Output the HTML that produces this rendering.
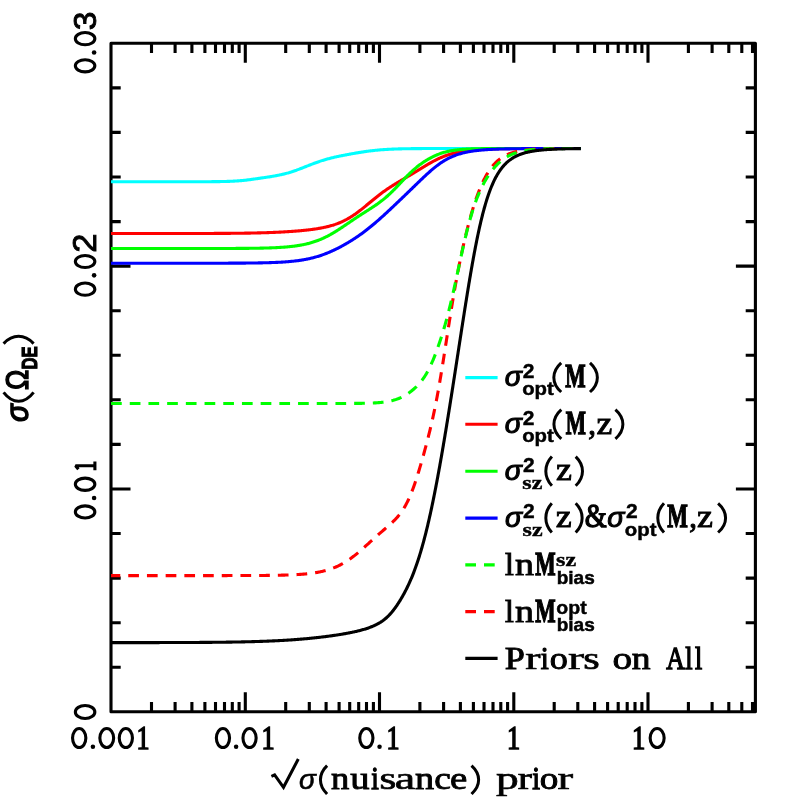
<!DOCTYPE html>
<html><head><meta charset="utf-8"><title>chart</title>
<style>html,body{margin:0;padding:0;background:#fff}svg{display:block}text{font-family:"Liberation Serif",serif;fill:#000}.s{font-family:"Liberation Sans",sans-serif}.m{font-family:"Liberation Mono",monospace}</style></head>
<body>
<svg width="797" height="797" viewBox="0 0 797 797">
<rect width="797" height="797" fill="#fff"/>
<path d="M151.5 711.8 v-9.7 M151.5 43.3 v9.7 M175.1 711.8 v-9.7 M175.1 43.3 v9.7 M191.9 711.8 v-9.7 M191.9 43.3 v9.7 M204.9 711.8 v-9.7 M204.9 43.3 v9.7 M215.5 711.8 v-9.7 M215.5 43.3 v9.7 M224.5 711.8 v-9.7 M224.5 43.3 v9.7 M232.3 711.8 v-9.7 M232.3 43.3 v9.7 M239.1 711.8 v-9.7 M239.1 43.3 v9.7 M245.3 711.8 v-19.5 M245.3 43.3 v19.5 M285.7 711.8 v-9.7 M285.7 43.3 v9.7 M309.3 711.8 v-9.7 M309.3 43.3 v9.7 M326.1 711.8 v-9.7 M326.1 43.3 v9.7 M339.1 711.8 v-9.7 M339.1 43.3 v9.7 M349.7 711.8 v-9.7 M349.7 43.3 v9.7 M358.7 711.8 v-9.7 M358.7 43.3 v9.7 M366.5 711.8 v-9.7 M366.5 43.3 v9.7 M373.4 711.8 v-9.7 M373.4 43.3 v9.7 M379.5 711.8 v-19.5 M379.5 43.3 v19.5 M419.9 711.8 v-9.7 M419.9 43.3 v9.7 M443.6 711.8 v-9.7 M443.6 43.3 v9.7 M460.4 711.8 v-9.7 M460.4 43.3 v9.7 M473.4 711.8 v-9.7 M473.4 43.3 v9.7 M484.0 711.8 v-9.7 M484.0 43.3 v9.7 M493.0 711.8 v-9.7 M493.0 43.3 v9.7 M500.8 711.8 v-9.7 M500.8 43.3 v9.7 M507.6 711.8 v-9.7 M507.6 43.3 v9.7 M513.8 711.8 v-19.5 M513.8 43.3 v19.5 M554.2 711.8 v-9.7 M554.2 43.3 v9.7 M577.8 711.8 v-9.7 M577.8 43.3 v9.7 M594.6 711.8 v-9.7 M594.6 43.3 v9.7 M607.6 711.8 v-9.7 M607.6 43.3 v9.7 M618.2 711.8 v-9.7 M618.2 43.3 v9.7 M627.2 711.8 v-9.7 M627.2 43.3 v9.7 M635.0 711.8 v-9.7 M635.0 43.3 v9.7 M641.9 711.8 v-9.7 M641.9 43.3 v9.7 M648.0 711.8 v-19.5 M648.0 43.3 v19.5 M688.4 711.8 v-9.7 M688.4 43.3 v9.7 M712.1 711.8 v-9.7 M712.1 43.3 v9.7 M728.8 711.8 v-9.7 M728.8 43.3 v9.7 M741.8 711.8 v-9.7 M741.8 43.3 v9.7 M752.5 711.8 v-9.7 M752.5 43.3 v9.7 M111.0 667.2 h9.7 M755.4 667.2 h-9.7 M111.0 622.7 h9.7 M755.4 622.7 h-9.7 M111.0 578.1 h9.7 M755.4 578.1 h-9.7 M111.0 533.5 h9.7 M755.4 533.5 h-9.7 M111.0 489.0 h19.5 M755.4 489.0 h-19.5 M111.0 444.4 h9.7 M755.4 444.4 h-9.7 M111.0 399.8 h9.7 M755.4 399.8 h-9.7 M111.0 355.3 h9.7 M755.4 355.3 h-9.7 M111.0 310.7 h9.7 M755.4 310.7 h-9.7 M111.0 266.1 h19.5 M755.4 266.1 h-19.5 M111.0 221.6 h9.7 M755.4 221.6 h-9.7 M111.0 177.0 h9.7 M755.4 177.0 h-9.7 M111.0 132.4 h9.7 M755.4 132.4 h-9.7 M111.0 87.9 h9.7 M755.4 87.9 h-9.7" stroke="#000" stroke-width="3.1" fill="none"/>
<rect x="111.0" y="43.3" width="644.4" height="668.5" fill="none" stroke="#000" stroke-width="3.1" stroke-linejoin="round"/>
<g fill="none" stroke-width="3.1" stroke-linejoin="round">
<path d="M111.05 181.76 L111.85 181.76 L112.65 181.76 L113.45 181.76 L114.25 181.76 L115.05 181.76 L115.85 181.76 L116.65 181.76 L117.45 181.76 L118.25 181.76 L119.05 181.76 L119.85 181.76 L120.65 181.76 L121.46 181.76 L122.26 181.76 L123.06 181.76 L123.86 181.76 L124.66 181.76 L125.46 181.76 L126.26 181.76 L127.06 181.76 L127.86 181.76 L128.66 181.76 L129.46 181.76 L130.26 181.76 L131.06 181.76 L131.86 181.76 L132.66 181.76 L133.46 181.76 L134.26 181.76 L135.06 181.76 L135.86 181.76 L136.66 181.76 L137.46 181.76 L138.26 181.76 L139.06 181.76 L139.86 181.76 L140.66 181.76 L141.46 181.76 L142.27 181.76 L143.07 181.76 L143.87 181.76 L144.67 181.76 L145.47 181.76 L146.27 181.76 L147.07 181.76 L147.87 181.76 L148.67 181.76 L149.47 181.75 L150.27 181.75 L151.07 181.75 L151.87 181.75 L152.67 181.75 L153.47 181.75 L154.27 181.75 L155.07 181.75 L155.87 181.75 L156.67 181.75 L157.47 181.75 L158.27 181.75 L159.07 181.75 L159.87 181.75 L160.67 181.75 L161.47 181.75 L162.27 181.75 L163.08 181.75 L163.88 181.75 L164.68 181.75 L165.48 181.75 L166.28 181.75 L167.08 181.75 L167.88 181.75 L168.68 181.75 L169.48 181.75 L170.28 181.75 L171.08 181.75 L171.88 181.75 L172.68 181.75 L173.48 181.75 L174.28 181.75 L175.08 181.75 L175.88 181.75 L176.68 181.75 L177.48 181.75 L178.28 181.75 L179.08 181.75 L179.88 181.75 L180.68 181.75 L181.48 181.75 L182.28 181.75 L183.08 181.75 L183.89 181.75 L184.69 181.75 L185.49 181.75 L186.29 181.75 L187.09 181.75 L187.89 181.74 L188.69 181.74 L189.49 181.74 L190.29 181.74 L191.09 181.74 L191.89 181.74 L192.69 181.74 L193.49 181.74 L194.29 181.74 L195.09 181.74 L195.89 181.73 L196.69 181.73 L197.49 181.73 L198.29 181.73 L199.09 181.73 L199.89 181.73 L200.69 181.72 L201.49 181.72 L202.29 181.72 L203.09 181.72 L203.90 181.71 L204.70 181.71 L205.50 181.71 L206.30 181.70 L207.10 181.70 L207.90 181.70 L208.70 181.69 L209.50 181.69 L210.30 181.68 L211.10 181.68 L211.90 181.67 L212.70 181.67 L213.50 181.66 L214.30 181.65 L215.10 181.64 L215.90 181.64 L216.70 181.63 L217.50 181.62 L218.30 181.61 L219.10 181.60 L219.90 181.58 L220.70 181.57 L221.50 181.56 L222.30 181.54 L223.10 181.52 L223.90 181.51 L224.70 181.49 L225.50 181.47 L226.30 181.45 L227.10 181.42 L227.90 181.40 L228.70 181.37 L229.50 181.34 L230.30 181.31 L231.10 181.28 L231.90 181.24 L232.70 181.20 L233.50 181.16 L234.30 181.12 L235.10 181.07 L235.90 181.02 L236.70 180.97 L237.50 180.92 L238.29 180.86 L239.09 180.79 L239.89 180.73 L240.69 180.66 L241.48 180.59 L242.28 180.51 L243.08 180.43 L243.87 180.35 L244.67 180.27 L245.47 180.18 L246.26 180.09 L247.05 179.99 L247.85 179.89 L248.64 179.79 L249.44 179.69 L250.23 179.59 L251.02 179.48 L251.82 179.37 L252.61 179.27 L253.40 179.16 L254.20 179.04 L254.99 178.93 L255.78 178.82 L256.57 178.70 L257.37 178.59 L258.16 178.48 L258.95 178.36 L259.74 178.25 L260.53 178.13 L261.33 178.02 L262.12 177.90 L262.91 177.79 L263.70 177.67 L264.49 177.56 L265.29 177.44 L266.08 177.33 L266.87 177.21 L267.66 177.09 L268.45 176.97 L269.24 176.85 L270.03 176.72 L270.82 176.60 L271.61 176.47 L272.40 176.34 L273.19 176.20 L273.98 176.07 L274.77 175.93 L275.56 175.79 L276.34 175.64 L277.13 175.49 L277.92 175.34 L278.70 175.18 L279.48 175.01 L280.27 174.85 L281.05 174.68 L281.83 174.50 L282.61 174.32 L283.39 174.13 L284.17 173.94 L284.94 173.74 L285.72 173.54 L286.49 173.34 L287.26 173.12 L288.03 172.91 L288.80 172.68 L289.57 172.46 L290.33 172.22 L291.10 171.99 L291.86 171.74 L292.62 171.50 L293.38 171.24 L294.14 170.99 L294.90 170.73 L295.65 170.46 L296.41 170.20 L297.16 169.92 L297.91 169.65 L298.66 169.37 L299.41 169.09 L300.16 168.81 L300.91 168.52 L301.65 168.23 L302.40 167.94 L303.14 167.65 L303.89 167.35 L304.63 167.06 L305.38 166.77 L306.12 166.47 L306.86 166.18 L307.61 165.88 L308.35 165.59 L309.10 165.29 L309.84 165.00 L310.59 164.71 L311.33 164.42 L312.08 164.13 L312.83 163.84 L313.58 163.56 L314.33 163.28 L315.08 163.00 L315.83 162.73 L316.58 162.45 L317.33 162.18 L318.09 161.92 L318.85 161.66 L319.60 161.40 L320.36 161.15 L321.12 160.90 L321.89 160.65 L322.65 160.41 L323.41 160.17 L324.18 159.94 L324.95 159.71 L325.71 159.49 L326.48 159.27 L327.25 159.05 L328.03 158.84 L328.80 158.63 L329.57 158.43 L330.35 158.23 L331.12 158.03 L331.90 157.84 L332.68 157.65 L333.46 157.47 L334.24 157.28 L335.02 157.10 L335.80 156.93 L336.58 156.76 L337.36 156.59 L338.14 156.42 L338.93 156.25 L339.71 156.09 L340.50 155.93 L341.28 155.77 L342.06 155.61 L342.85 155.46 L343.64 155.31 L344.42 155.15 L345.21 155.00 L345.99 154.86 L346.78 154.71 L347.57 154.56 L348.35 154.42 L349.14 154.27 L349.93 154.13 L350.72 153.98 L351.50 153.84 L352.29 153.70 L353.08 153.56 L353.87 153.43 L354.66 153.29 L355.45 153.15 L356.23 153.02 L357.02 152.88 L357.81 152.75 L358.60 152.62 L359.39 152.49 L360.18 152.36 L360.97 152.24 L361.76 152.11 L362.55 151.99 L363.35 151.87 L364.14 151.75 L364.93 151.63 L365.72 151.52 L366.51 151.40 L367.31 151.29 L368.10 151.19 L368.89 151.08 L369.69 150.98 L370.48 150.88 L371.28 150.78 L372.07 150.68 L372.87 150.59 L373.66 150.50 L374.46 150.42 L375.25 150.33 L376.05 150.25 L376.84 150.17 L377.64 150.10 L378.44 150.02 L379.24 149.95 L380.03 149.88 L380.83 149.82 L381.63 149.76 L382.43 149.69 L383.23 149.64 L384.02 149.58 L384.82 149.53 L385.62 149.48 L386.42 149.43 L387.22 149.38 L388.02 149.34 L388.82 149.29 L389.62 149.25 L390.42 149.21 L391.22 149.18 L392.02 149.14 L392.82 149.11 L393.61 149.08 L394.41 149.05 L395.21 149.02 L396.01 148.99 L396.81 148.96 L397.61 148.94 L398.41 148.91 L399.21 148.89 L400.01 148.87 L400.81 148.85 L401.61 148.83 L402.42 148.81 L403.22 148.80 L404.02 148.78 L404.82 148.76 L405.62 148.75 L406.42 148.74 L407.22 148.72 L408.02 148.71 L408.82 148.70 L409.62 148.69 L410.42 148.68 L411.22 148.67 L412.02 148.66 L412.82 148.65 L413.62 148.64 L414.42 148.63 L415.22 148.62 L416.02 148.62 L416.82 148.61 L417.62 148.60 L418.42 148.60 L419.22 148.59 L420.02 148.59 L420.82 148.58 L421.62 148.58 L422.42 148.57 L423.22 148.57 L424.02 148.56 L424.82 148.56 L425.62 148.56 L426.43 148.55 L427.23 148.55 L428.03 148.55 L428.83 148.54 L429.63 148.54 L430.43 148.54 L431.23 148.54 L432.03 148.53 L432.83 148.53 L433.63 148.53 L434.43 148.53 L435.23 148.52 L436.03 148.52 L436.83 148.52 L437.63 148.52 L438.43 148.52 L439.23 148.52 L440.03 148.52 L440.83 148.51 L441.63 148.51 L442.43 148.51 L443.23 148.51 L444.03 148.51 L444.83 148.51 L445.63 148.51 L446.43 148.51 L447.24 148.51 L448.04 148.51 L448.84 148.51 L449.64 148.50 L450.44 148.50 L451.24 148.50 L452.04 148.50 L452.84 148.50 L453.64 148.50 L454.44 148.50 L455.24 148.50 L456.04 148.50 L456.84 148.50 L457.64 148.50 L458.44 148.50 L459.24 148.50 L460.04 148.50 L460.84 148.50 L461.64 148.50 L462.44 148.50 L463.24 148.50 L464.04 148.50 L464.84 148.50 L465.64 148.50 L466.44 148.50 L467.24 148.50 L468.05 148.50 L468.85 148.50 L469.65 148.50 L470.45 148.50 L471.25 148.50 L472.05 148.50 L472.85 148.50 L473.65 148.50 L474.45 148.50 L475.25 148.50 L476.05 148.50 L476.85 148.50 L477.65 148.50 L478.45 148.50 L479.25 148.50 L480.05 148.50 L480.85 148.50 L481.65 148.49 L482.45 148.49 L483.25 148.49 L484.05 148.49 L484.85 148.49 L485.65 148.49 L486.45 148.49 L487.25 148.49 L488.05 148.49 L488.86 148.49 L489.66 148.49 L490.46 148.49 L491.26 148.49 L492.06 148.49 L492.86 148.49 L493.66 148.49 L494.46 148.49 L495.26 148.49 L496.06 148.49 L496.86 148.49 L497.66 148.49 L498.46 148.49 L499.26 148.49 L500.06 148.49 L500.86 148.49 L501.66 148.49 L502.46 148.49 L503.26 148.49 L504.06 148.49 L504.86 148.49 L505.66 148.49 L506.46 148.49 L507.26 148.49 L508.06 148.49 L508.87 148.49 L509.67 148.49 L510.47 148.49 L511.27 148.49 L512.07 148.49 L512.87 148.49 L513.67 148.49 L514.47 148.49 L515.27 148.49 L516.07 148.49 L516.87 148.49 L517.67 148.49 L518.47 148.49 L519.27 148.49 L520.07 148.49 L520.87 148.49 L521.67 148.49 L522.47 148.49 L523.27 148.49 L524.07 148.49 L524.87 148.49 L525.67 148.49 L526.47 148.49 L527.27 148.49 L528.07 148.49 L528.87 148.49 L529.68 148.49 L530.48 148.49 L531.28 148.49 L532.08 148.49 L532.88 148.49 L533.68 148.49 L534.48 148.49 L535.28 148.49 L536.08 148.49 L536.88 148.49 L537.68 148.49 L538.48 148.49 L539.28 148.49 L540.08 148.49 L540.88 148.49 L541.68 148.49 L542.48 148.49 L543.28 148.49 L544.08 148.49 L544.88 148.49 L545.68 148.49 L546.48 148.49 L547.28 148.49 L548.08 148.49 L548.88 148.49 L549.68 148.49 L550.49 148.49 L551.29 148.49 L552.09 148.49 L552.89 148.49 L553.69 148.49 L554.49 148.49 L555.29 148.49 L556.09 148.49 L556.89 148.49 L557.69 148.49 L558.49 148.49 L559.29 148.49 L560.09 148.49 L560.89 148.49 L561.69 148.49 L562.49 148.49 L563.29 148.49 L564.09 148.49 L564.89 148.49 L565.69 148.49 L566.49 148.49 L567.29 148.49 L568.09 148.49 L568.89 148.49 L569.69 148.49 L570.49 148.49 L571.30 148.49 L572.10 148.49 L572.90 148.49 L573.70 148.49 L574.50 148.49 L575.30 148.49 L576.10 148.49 L576.90 148.49 L577.70 148.49 L578.50 148.49 L579.30 148.49 L580.10 148.49 L580.90 148.49" stroke="#00ffff"/>
<path d="M111.05 233.52 L111.85 233.52 L112.65 233.52 L113.45 233.52 L114.25 233.52 L115.05 233.52 L115.85 233.52 L116.65 233.52 L117.45 233.52 L118.25 233.52 L119.05 233.52 L119.85 233.52 L120.65 233.52 L121.46 233.52 L122.26 233.52 L123.06 233.52 L123.86 233.52 L124.66 233.52 L125.46 233.52 L126.26 233.52 L127.06 233.52 L127.86 233.52 L128.66 233.52 L129.46 233.52 L130.26 233.52 L131.06 233.52 L131.86 233.52 L132.66 233.52 L133.46 233.52 L134.26 233.52 L135.06 233.52 L135.86 233.52 L136.66 233.52 L137.46 233.52 L138.26 233.52 L139.06 233.52 L139.86 233.51 L140.66 233.51 L141.46 233.51 L142.27 233.51 L143.07 233.51 L143.87 233.51 L144.67 233.51 L145.47 233.51 L146.27 233.51 L147.07 233.51 L147.87 233.51 L148.67 233.51 L149.47 233.51 L150.27 233.51 L151.07 233.51 L151.87 233.51 L152.67 233.51 L153.47 233.51 L154.27 233.51 L155.07 233.51 L155.87 233.51 L156.67 233.51 L157.47 233.51 L158.27 233.51 L159.07 233.51 L159.87 233.51 L160.67 233.51 L161.47 233.51 L162.28 233.51 L163.08 233.51 L163.88 233.51 L164.68 233.51 L165.48 233.51 L166.28 233.51 L167.08 233.51 L167.88 233.51 L168.68 233.51 L169.48 233.51 L170.28 233.50 L171.08 233.50 L171.88 233.50 L172.68 233.50 L173.48 233.50 L174.28 233.50 L175.08 233.50 L175.88 233.50 L176.68 233.50 L177.48 233.50 L178.28 233.50 L179.08 233.50 L179.88 233.50 L180.68 233.50 L181.48 233.50 L182.28 233.50 L183.09 233.49 L183.89 233.49 L184.69 233.49 L185.49 233.49 L186.29 233.49 L187.09 233.49 L187.89 233.49 L188.69 233.49 L189.49 233.49 L190.29 233.49 L191.09 233.48 L191.89 233.48 L192.69 233.48 L193.49 233.48 L194.29 233.48 L195.09 233.48 L195.89 233.48 L196.69 233.47 L197.49 233.47 L198.29 233.47 L199.09 233.47 L199.89 233.47 L200.69 233.47 L201.49 233.46 L202.29 233.46 L203.09 233.46 L203.90 233.46 L204.70 233.46 L205.50 233.45 L206.30 233.45 L207.10 233.45 L207.90 233.45 L208.70 233.44 L209.50 233.44 L210.30 233.44 L211.10 233.44 L211.90 233.43 L212.70 233.43 L213.50 233.43 L214.30 233.42 L215.10 233.42 L215.90 233.42 L216.70 233.41 L217.50 233.41 L218.30 233.41 L219.10 233.40 L219.90 233.40 L220.70 233.39 L221.50 233.39 L222.30 233.38 L223.10 233.38 L223.90 233.37 L224.71 233.37 L225.51 233.36 L226.31 233.36 L227.11 233.35 L227.91 233.35 L228.71 233.34 L229.51 233.33 L230.31 233.33 L231.11 233.32 L231.91 233.31 L232.71 233.31 L233.51 233.30 L234.31 233.29 L235.11 233.28 L235.91 233.28 L236.71 233.27 L237.51 233.26 L238.31 233.25 L239.11 233.24 L239.91 233.23 L240.71 233.22 L241.51 233.21 L242.31 233.20 L243.11 233.19 L243.91 233.18 L244.71 233.17 L245.51 233.16 L246.31 233.14 L247.11 233.13 L247.92 233.12 L248.72 233.10 L249.52 233.09 L250.32 233.08 L251.12 233.06 L251.92 233.05 L252.72 233.03 L253.52 233.01 L254.32 233.00 L255.12 232.98 L255.92 232.96 L256.72 232.94 L257.52 232.92 L258.32 232.91 L259.12 232.89 L259.92 232.86 L260.72 232.84 L261.52 232.82 L262.32 232.80 L263.12 232.78 L263.92 232.75 L264.72 232.73 L265.52 232.70 L266.32 232.68 L267.12 232.65 L267.92 232.62 L268.72 232.60 L269.52 232.57 L270.32 232.54 L271.12 232.51 L271.92 232.48 L272.72 232.44 L273.52 232.41 L274.32 232.38 L275.12 232.34 L275.92 232.31 L276.72 232.27 L277.52 232.23 L278.31 232.20 L279.11 232.16 L279.91 232.12 L280.71 232.08 L281.51 232.03 L282.31 231.99 L283.11 231.95 L283.91 231.90 L284.71 231.86 L285.51 231.81 L286.31 231.76 L287.11 231.71 L287.90 231.66 L288.70 231.61 L289.50 231.56 L290.30 231.50 L291.10 231.45 L291.90 231.39 L292.70 231.34 L293.49 231.28 L294.29 231.22 L295.09 231.16 L295.89 231.09 L296.69 231.03 L297.48 230.96 L298.28 230.89 L299.08 230.83 L299.88 230.76 L300.67 230.68 L301.47 230.61 L302.27 230.53 L303.06 230.46 L303.86 230.38 L304.66 230.30 L305.45 230.21 L306.25 230.13 L307.04 230.04 L307.84 229.95 L308.63 229.86 L309.43 229.76 L310.22 229.67 L311.02 229.57 L311.81 229.47 L312.60 229.36 L313.40 229.25 L314.19 229.14 L314.98 229.03 L315.77 228.91 L316.57 228.79 L317.36 228.66 L318.15 228.53 L318.94 228.40 L319.72 228.26 L320.51 228.12 L321.30 227.98 L322.09 227.83 L322.87 227.67 L323.65 227.51 L324.44 227.35 L325.22 227.18 L326.00 227.00 L326.78 226.82 L327.56 226.63 L328.33 226.44 L329.11 226.24 L329.88 226.03 L330.65 225.82 L331.42 225.60 L332.19 225.37 L332.96 225.14 L333.72 224.90 L334.48 224.65 L335.24 224.40 L336.00 224.13 L336.75 223.86 L337.50 223.58 L338.25 223.30 L338.99 223.00 L339.73 222.70 L340.47 222.39 L341.20 222.07 L341.93 221.74 L342.66 221.41 L343.38 221.06 L344.10 220.71 L344.82 220.36 L345.53 219.99 L346.24 219.62 L346.94 219.23 L347.64 218.85 L348.34 218.45 L349.03 218.05 L349.72 217.64 L350.40 217.22 L351.08 216.80 L351.76 216.37 L352.43 215.94 L353.10 215.50 L353.76 215.05 L354.43 214.60 L355.08 214.15 L355.74 213.69 L356.39 213.22 L357.04 212.75 L357.68 212.28 L358.32 211.80 L358.96 211.32 L359.60 210.83 L360.23 210.34 L360.86 209.85 L361.49 209.36 L362.12 208.86 L362.75 208.36 L363.37 207.86 L363.99 207.35 L364.61 206.85 L365.23 206.34 L365.85 205.83 L366.47 205.33 L367.09 204.82 L367.70 204.31 L368.32 203.79 L368.94 203.28 L369.55 202.77 L370.17 202.26 L370.78 201.75 L371.40 201.24 L372.02 200.73 L372.64 200.22 L373.25 199.71 L373.87 199.21 L374.49 198.70 L375.12 198.20 L375.74 197.70 L376.36 197.20 L376.99 196.70 L377.62 196.20 L378.25 195.71 L378.88 195.22 L379.51 194.73 L380.15 194.24 L380.79 193.76 L381.43 193.28 L382.07 192.80 L382.71 192.32 L383.36 191.85 L384.01 191.38 L384.66 190.92 L385.31 190.46 L385.97 190.00 L386.63 189.54 L387.29 189.09 L387.95 188.64 L388.61 188.19 L389.28 187.75 L389.95 187.31 L390.62 186.87 L391.29 186.44 L391.97 186.01 L392.64 185.58 L393.32 185.15 L394.00 184.73 L394.68 184.31 L395.36 183.89 L396.04 183.47 L396.73 183.06 L397.41 182.64 L398.10 182.23 L398.79 181.82 L399.47 181.41 L400.16 181.00 L400.85 180.59 L401.54 180.19 L402.23 179.78 L402.92 179.37 L403.61 178.97 L404.30 178.56 L404.99 178.15 L405.68 177.75 L406.37 177.34 L407.06 176.93 L407.75 176.53 L408.43 176.12 L409.12 175.71 L409.81 175.30 L410.50 174.89 L411.18 174.48 L411.87 174.06 L412.55 173.65 L413.24 173.24 L413.92 172.82 L414.61 172.41 L415.29 171.99 L415.97 171.57 L416.66 171.16 L417.34 170.74 L418.02 170.32 L418.70 169.90 L419.39 169.48 L420.07 169.06 L420.75 168.65 L421.43 168.23 L422.12 167.81 L422.80 167.40 L423.49 166.98 L424.17 166.57 L424.86 166.15 L425.54 165.74 L426.23 165.33 L426.92 164.92 L427.61 164.52 L428.30 164.11 L428.99 163.71 L429.69 163.31 L430.38 162.92 L431.08 162.53 L431.78 162.14 L432.48 161.75 L433.19 161.37 L433.89 161.00 L434.60 160.63 L435.31 160.26 L436.03 159.90 L436.74 159.54 L437.46 159.19 L438.18 158.84 L438.91 158.50 L439.63 158.16 L440.36 157.84 L441.10 157.51 L441.83 157.20 L442.57 156.89 L443.31 156.58 L444.05 156.29 L444.80 156.00 L445.55 155.72 L446.30 155.44 L447.06 155.17 L447.81 154.91 L448.57 154.66 L449.33 154.41 L450.10 154.17 L450.86 153.94 L451.63 153.72 L452.40 153.50 L453.17 153.29 L453.95 153.09 L454.72 152.89 L455.50 152.70 L456.28 152.52 L457.06 152.34 L457.84 152.17 L458.63 152.01 L459.41 151.85 L460.20 151.70 L460.98 151.55 L461.77 151.41 L462.56 151.28 L463.35 151.15 L464.14 151.03 L464.93 150.91 L465.73 150.80 L466.52 150.69 L467.31 150.59 L468.11 150.49 L468.90 150.39 L469.70 150.30 L470.49 150.21 L471.29 150.13 L472.09 150.05 L472.88 149.98 L473.68 149.91 L474.48 149.84 L475.27 149.77 L476.07 149.71 L476.87 149.65 L477.67 149.59 L478.47 149.54 L479.27 149.49 L480.07 149.44 L480.86 149.39 L481.66 149.34 L482.46 149.30 L483.26 149.26 L484.06 149.22 L484.86 149.19 L485.66 149.15 L486.46 149.12 L487.26 149.09 L488.06 149.05 L488.86 149.03 L489.66 149.00 L490.46 148.97 L491.26 148.95 L492.06 148.92 L492.86 148.90 L493.66 148.88 L494.46 148.86 L495.26 148.84 L496.06 148.82 L496.86 148.81 L497.66 148.79 L498.46 148.77 L499.26 148.76 L500.06 148.74 L500.86 148.73 L501.66 148.72 L502.46 148.70 L503.26 148.69 L504.06 148.68 L504.86 148.67 L505.66 148.66 L506.46 148.65 L507.26 148.64 L508.06 148.63 L508.87 148.63 L509.67 148.62 L510.47 148.61 L511.27 148.60 L512.07 148.60 L512.87 148.59 L513.67 148.58 L514.47 148.58 L515.27 148.57 L516.07 148.57 L516.87 148.56 L517.67 148.56 L518.47 148.55 L519.27 148.55 L520.07 148.55 L520.87 148.54 L521.67 148.54 L522.47 148.54 L523.27 148.53 L524.07 148.53 L524.87 148.53 L525.67 148.52 L526.47 148.52 L527.27 148.52 L528.07 148.52 L528.87 148.51 L529.68 148.51 L530.48 148.51 L531.28 148.51 L532.08 148.51 L532.88 148.50 L533.68 148.50 L534.48 148.50 L535.28 148.50 L536.08 148.50 L536.88 148.50 L537.68 148.49 L538.48 148.49 L539.28 148.49 L540.08 148.49 L540.88 148.49 L541.68 148.49 L542.48 148.49 L543.28 148.49 L544.08 148.49 L544.88 148.49 L545.68 148.48 L546.48 148.48 L547.28 148.48 L548.08 148.48 L548.88 148.48 L549.68 148.48 L550.49 148.48 L551.29 148.48 L552.09 148.48 L552.89 148.48 L553.69 148.48 L554.49 148.48 L555.29 148.48 L556.09 148.48 L556.89 148.48 L557.69 148.48 L558.49 148.48 L559.29 148.48 L560.09 148.48 L560.89 148.48 L561.69 148.48 L562.49 148.48 L563.29 148.47 L564.09 148.47 L564.89 148.47 L565.69 148.47 L566.49 148.47 L567.29 148.47 L568.09 148.47 L568.89 148.47 L569.69 148.47 L570.49 148.47 L571.30 148.47 L572.10 148.47 L572.90 148.47 L573.70 148.47 L574.50 148.47 L575.30 148.47 L576.10 148.47 L576.90 148.47 L577.70 148.47 L578.50 148.47 L579.30 148.47 L580.10 148.47 L580.90 148.47" stroke="#ff0000"/>
<path d="M111.05 248.51 L111.85 248.51 L112.65 248.51 L113.45 248.51 L114.25 248.51 L115.06 248.51 L115.86 248.51 L116.66 248.51 L117.46 248.51 L118.26 248.51 L119.06 248.51 L119.86 248.51 L120.66 248.51 L121.47 248.51 L122.27 248.51 L123.07 248.51 L123.87 248.51 L124.67 248.51 L125.47 248.51 L126.27 248.51 L127.07 248.51 L127.87 248.51 L128.68 248.51 L129.48 248.51 L130.28 248.51 L131.08 248.51 L131.88 248.51 L132.68 248.51 L133.48 248.51 L134.28 248.51 L135.09 248.51 L135.89 248.51 L136.69 248.51 L137.49 248.51 L138.29 248.51 L139.09 248.51 L139.89 248.51 L140.69 248.51 L141.50 248.51 L142.30 248.51 L143.10 248.51 L143.90 248.51 L144.70 248.51 L145.50 248.51 L146.30 248.51 L147.10 248.51 L147.90 248.51 L148.71 248.51 L149.51 248.51 L150.31 248.51 L151.11 248.51 L151.91 248.51 L152.71 248.51 L153.51 248.51 L154.31 248.51 L155.12 248.51 L155.92 248.51 L156.72 248.51 L157.52 248.51 L158.32 248.51 L159.12 248.51 L159.92 248.51 L160.72 248.51 L161.52 248.51 L162.33 248.51 L163.13 248.51 L163.93 248.51 L164.73 248.51 L165.53 248.51 L166.33 248.51 L167.13 248.51 L167.93 248.51 L168.74 248.51 L169.54 248.51 L170.34 248.51 L171.14 248.51 L171.94 248.51 L172.74 248.51 L173.54 248.51 L174.34 248.51 L175.15 248.51 L175.95 248.51 L176.75 248.51 L177.55 248.51 L178.35 248.51 L179.15 248.51 L179.95 248.51 L180.75 248.51 L181.55 248.51 L182.36 248.51 L183.16 248.51 L183.96 248.51 L184.76 248.51 L185.56 248.51 L186.36 248.51 L187.16 248.51 L187.96 248.51 L188.77 248.51 L189.57 248.50 L190.37 248.50 L191.17 248.50 L191.97 248.50 L192.77 248.50 L193.57 248.50 L194.37 248.50 L195.17 248.50 L195.98 248.50 L196.78 248.50 L197.58 248.50 L198.38 248.50 L199.18 248.50 L199.98 248.50 L200.78 248.50 L201.58 248.50 L202.39 248.50 L203.19 248.50 L203.99 248.50 L204.79 248.50 L205.59 248.50 L206.39 248.49 L207.19 248.49 L207.99 248.49 L208.80 248.49 L209.60 248.49 L210.40 248.49 L211.20 248.49 L212.00 248.49 L212.80 248.49 L213.60 248.49 L214.40 248.49 L215.20 248.48 L216.01 248.48 L216.81 248.48 L217.61 248.48 L218.41 248.48 L219.21 248.48 L220.01 248.48 L220.81 248.47 L221.61 248.47 L222.42 248.47 L223.22 248.47 L224.02 248.47 L224.82 248.46 L225.62 248.46 L226.42 248.46 L227.22 248.46 L228.02 248.45 L228.82 248.45 L229.63 248.45 L230.43 248.45 L231.23 248.44 L232.03 248.44 L232.83 248.44 L233.63 248.43 L234.43 248.43 L235.23 248.43 L236.04 248.42 L236.84 248.42 L237.64 248.41 L238.44 248.41 L239.24 248.40 L240.04 248.40 L240.84 248.39 L241.64 248.39 L242.44 248.38 L243.25 248.38 L244.05 248.37 L244.85 248.36 L245.65 248.36 L246.45 248.35 L247.25 248.34 L248.05 248.33 L248.85 248.33 L249.66 248.32 L250.46 248.31 L251.26 248.30 L252.06 248.29 L252.86 248.28 L253.66 248.27 L254.46 248.26 L255.26 248.24 L256.06 248.23 L256.87 248.22 L257.67 248.20 L258.47 248.19 L259.27 248.18 L260.07 248.16 L260.87 248.14 L261.67 248.13 L262.47 248.11 L263.27 248.09 L264.07 248.07 L264.88 248.05 L265.68 248.03 L266.48 248.01 L267.28 247.98 L268.08 247.96 L268.88 247.93 L269.68 247.91 L270.48 247.88 L271.28 247.85 L272.08 247.82 L272.88 247.78 L273.68 247.75 L274.48 247.72 L275.28 247.68 L276.08 247.64 L276.88 247.60 L277.68 247.56 L278.48 247.52 L279.28 247.47 L280.08 247.42 L280.88 247.37 L281.68 247.32 L282.48 247.27 L283.28 247.21 L284.08 247.15 L284.88 247.09 L285.68 247.02 L286.48 246.96 L287.27 246.89 L288.07 246.81 L288.87 246.74 L289.67 246.66 L290.46 246.57 L291.26 246.49 L292.06 246.40 L292.85 246.30 L293.65 246.20 L294.44 246.10 L295.24 246.00 L296.03 245.89 L296.82 245.77 L297.62 245.65 L298.41 245.53 L299.20 245.40 L299.99 245.26 L300.78 245.12 L301.56 244.98 L302.35 244.83 L303.14 244.67 L303.92 244.51 L304.71 244.35 L305.49 244.17 L306.27 243.99 L307.05 243.81 L307.83 243.62 L308.60 243.42 L309.38 243.21 L310.15 243.00 L310.92 242.78 L311.69 242.56 L312.46 242.33 L313.22 242.09 L313.98 241.84 L314.74 241.59 L315.50 241.33 L316.26 241.06 L317.01 240.79 L317.76 240.51 L318.51 240.22 L319.25 239.93 L320.00 239.63 L320.74 239.32 L321.47 239.01 L322.21 238.68 L322.94 238.36 L323.67 238.02 L324.39 237.68 L325.11 237.33 L325.83 236.98 L326.55 236.62 L327.26 236.26 L327.97 235.89 L328.68 235.51 L329.39 235.13 L330.09 234.75 L330.79 234.36 L331.49 233.96 L332.18 233.56 L332.87 233.16 L333.56 232.75 L334.25 232.33 L334.93 231.92 L335.61 231.50 L336.29 231.08 L336.97 230.65 L337.65 230.22 L338.33 229.79 L339.00 229.36 L339.67 228.92 L340.34 228.48 L341.01 228.04 L341.68 227.60 L342.34 227.15 L343.01 226.71 L343.68 226.26 L344.34 225.81 L345.00 225.36 L345.67 224.91 L346.33 224.46 L346.99 224.01 L347.66 223.56 L348.32 223.11 L348.98 222.66 L349.64 222.21 L350.31 221.76 L350.97 221.31 L351.63 220.86 L352.30 220.42 L352.96 219.97 L353.63 219.52 L354.29 219.08 L354.96 218.63 L355.62 218.19 L356.29 217.74 L356.96 217.30 L357.63 216.86 L358.30 216.42 L358.97 215.98 L359.64 215.55 L360.31 215.11 L360.99 214.68 L361.66 214.24 L362.33 213.81 L363.01 213.38 L363.68 212.94 L364.36 212.51 L365.03 212.08 L365.71 211.65 L366.39 211.22 L367.06 210.79 L367.74 210.36 L368.41 209.93 L369.09 209.50 L369.76 209.07 L370.44 208.63 L371.11 208.20 L371.78 207.76 L372.45 207.32 L373.12 206.88 L373.79 206.43 L374.45 205.99 L375.11 205.54 L375.78 205.09 L376.44 204.63 L377.09 204.17 L377.75 203.71 L378.40 203.24 L379.05 202.77 L379.69 202.30 L380.33 201.82 L380.97 201.34 L381.61 200.85 L382.24 200.36 L382.87 199.86 L383.49 199.36 L384.11 198.85 L384.73 198.34 L385.34 197.82 L385.95 197.31 L386.56 196.78 L387.16 196.25 L387.76 195.72 L388.36 195.18 L388.95 194.64 L389.53 194.10 L390.12 193.55 L390.70 193.00 L391.28 192.44 L391.85 191.88 L392.42 191.32 L392.99 190.76 L393.56 190.19 L394.12 189.62 L394.68 189.05 L395.24 188.48 L395.80 187.90 L396.35 187.32 L396.91 186.74 L397.46 186.16 L398.01 185.58 L398.56 185.00 L399.11 184.42 L399.66 183.83 L400.21 183.25 L400.76 182.67 L401.31 182.08 L401.86 181.50 L402.41 180.91 L402.96 180.33 L403.51 179.75 L404.06 179.17 L404.61 178.59 L405.17 178.01 L405.72 177.44 L406.28 176.86 L406.84 176.29 L407.41 175.72 L407.97 175.15 L408.54 174.59 L409.11 174.03 L409.69 173.47 L410.26 172.91 L410.84 172.36 L411.43 171.81 L412.02 171.27 L412.61 170.73 L413.20 170.19 L413.80 169.66 L414.40 169.13 L415.01 168.61 L415.62 168.09 L416.24 167.58 L416.86 167.07 L417.48 166.57 L418.11 166.07 L418.74 165.58 L419.38 165.09 L420.02 164.61 L420.67 164.14 L421.32 163.67 L421.97 163.21 L422.63 162.75 L423.29 162.30 L423.96 161.86 L424.63 161.42 L425.31 160.99 L425.98 160.56 L426.67 160.14 L427.35 159.73 L428.04 159.32 L428.74 158.92 L429.44 158.53 L430.14 158.15 L430.85 157.77 L431.56 157.40 L432.27 157.03 L432.99 156.68 L433.71 156.33 L434.44 155.99 L435.16 155.66 L435.90 155.33 L436.63 155.02 L437.37 154.71 L438.12 154.41 L438.86 154.13 L439.62 153.85 L440.37 153.57 L441.13 153.31 L441.89 153.06 L442.65 152.82 L443.42 152.58 L444.19 152.36 L444.96 152.15 L445.73 151.94 L446.51 151.74 L447.29 151.56 L448.07 151.38 L448.85 151.21 L449.64 151.05 L450.42 150.89 L451.21 150.75 L452.00 150.61 L452.79 150.48 L453.58 150.36 L454.38 150.24 L455.17 150.13 L455.96 150.03 L456.76 149.93 L457.55 149.84 L458.35 149.75 L459.15 149.67 L459.95 149.59 L460.74 149.52 L461.54 149.46 L462.34 149.39 L463.14 149.33 L463.94 149.28 L464.74 149.23 L465.54 149.18 L466.34 149.13 L467.14 149.09 L467.94 149.05 L468.74 149.02 L469.54 148.98 L470.34 148.95 L471.14 148.92 L471.94 148.89 L472.74 148.86 L473.54 148.84 L474.34 148.82 L475.14 148.80 L475.95 148.78 L476.75 148.76 L477.55 148.74 L478.35 148.72 L479.15 148.71 L479.95 148.69 L480.75 148.68 L481.55 148.67 L482.35 148.66 L483.16 148.65 L483.96 148.64 L484.76 148.63 L485.56 148.62 L486.36 148.61 L487.16 148.60 L487.96 148.60 L488.76 148.59 L489.56 148.58 L490.37 148.58 L491.17 148.57 L491.97 148.57 L492.77 148.56 L493.57 148.56 L494.37 148.55 L495.17 148.55 L495.97 148.55 L496.78 148.54 L497.58 148.54 L498.38 148.54 L499.18 148.53 L499.98 148.53 L500.78 148.53 L501.58 148.53 L502.38 148.53 L503.18 148.52 L503.99 148.52 L504.79 148.52 L505.59 148.52 L506.39 148.52 L507.19 148.52 L507.99 148.51 L508.79 148.51 L509.59 148.51 L510.40 148.51 L511.20 148.51 L512.00 148.51 L512.80 148.51 L513.60 148.51 L514.40 148.51 L515.20 148.51 L516.00 148.51 L516.80 148.50 L517.61 148.50 L518.41 148.50 L519.21 148.50 L520.01 148.50 L520.81 148.50 L521.61 148.50 L522.41 148.50 L523.21 148.50 L524.02 148.50 L524.82 148.50 L525.62 148.50 L526.42 148.50 L527.22 148.50 L528.02 148.50 L528.82 148.50 L529.62 148.50 L530.43 148.50 L531.23 148.50 L532.03 148.50 L532.83 148.50 L533.63 148.50 L534.43 148.50 L535.23 148.50 L536.03 148.50 L536.83 148.50 L537.64 148.50 L538.44 148.50 L539.24 148.50 L540.04 148.50 L540.84 148.50 L541.64 148.50 L542.44 148.50 L543.24 148.50 L544.05 148.50 L544.85 148.50 L545.65 148.50 L546.45 148.50 L547.25 148.50 L548.05 148.50 L548.85 148.50 L549.65 148.50 L550.45 148.50 L551.26 148.50 L552.06 148.50 L552.86 148.50 L553.66 148.50 L554.46 148.50 L555.26 148.50 L556.06 148.50 L556.86 148.50 L557.67 148.50 L558.47 148.50 L559.27 148.50 L560.07 148.50 L560.87 148.50 L561.67 148.50 L562.47 148.50 L563.27 148.50 L564.08 148.50 L564.88 148.50 L565.68 148.50 L566.48 148.50 L567.28 148.50 L568.08 148.50 L568.88 148.50 L569.68 148.50 L570.48 148.50 L571.29 148.50 L572.09 148.50 L572.89 148.50 L573.69 148.50 L574.49 148.50 L575.29 148.50 L576.09 148.50 L576.89 148.50 L577.70 148.50 L578.50 148.50 L579.30 148.50 L580.10 148.50 L580.90 148.50" stroke="#00ff00"/>
<path d="M111.05 263.24 L111.85 263.24 L112.65 263.24 L113.45 263.24 L114.25 263.24 L115.05 263.24 L115.85 263.24 L116.65 263.24 L117.45 263.24 L118.25 263.24 L119.05 263.24 L119.85 263.24 L120.65 263.24 L121.45 263.24 L122.25 263.24 L123.05 263.24 L123.86 263.24 L124.66 263.24 L125.46 263.24 L126.26 263.24 L127.06 263.24 L127.86 263.24 L128.66 263.24 L129.46 263.24 L130.26 263.24 L131.06 263.24 L131.86 263.24 L132.66 263.24 L133.46 263.24 L134.26 263.24 L135.06 263.24 L135.86 263.24 L136.66 263.24 L137.46 263.24 L138.26 263.24 L139.06 263.24 L139.86 263.24 L140.66 263.24 L141.46 263.24 L142.26 263.24 L143.06 263.24 L143.86 263.24 L144.66 263.24 L145.46 263.24 L146.26 263.24 L147.06 263.24 L147.86 263.24 L148.67 263.24 L149.47 263.24 L150.27 263.24 L151.07 263.24 L151.87 263.24 L152.67 263.24 L153.47 263.24 L154.27 263.24 L155.07 263.24 L155.87 263.24 L156.67 263.24 L157.47 263.24 L158.27 263.24 L159.07 263.24 L159.87 263.24 L160.67 263.24 L161.47 263.24 L162.27 263.24 L163.07 263.24 L163.87 263.24 L164.67 263.24 L165.47 263.24 L166.27 263.24 L167.07 263.24 L167.87 263.24 L168.67 263.24 L169.47 263.24 L170.27 263.24 L171.07 263.24 L171.87 263.24 L172.68 263.24 L173.48 263.24 L174.28 263.24 L175.08 263.24 L175.88 263.24 L176.68 263.24 L177.48 263.24 L178.28 263.24 L179.08 263.24 L179.88 263.24 L180.68 263.24 L181.48 263.24 L182.28 263.24 L183.08 263.24 L183.88 263.23 L184.68 263.23 L185.48 263.23 L186.28 263.23 L187.08 263.23 L187.88 263.23 L188.68 263.23 L189.48 263.23 L190.28 263.23 L191.08 263.23 L191.88 263.23 L192.68 263.23 L193.48 263.23 L194.28 263.23 L195.08 263.23 L195.88 263.23 L196.68 263.23 L197.49 263.23 L198.29 263.23 L199.09 263.23 L199.89 263.23 L200.69 263.23 L201.49 263.22 L202.29 263.22 L203.09 263.22 L203.89 263.22 L204.69 263.22 L205.49 263.22 L206.29 263.22 L207.09 263.22 L207.89 263.22 L208.69 263.22 L209.49 263.22 L210.29 263.21 L211.09 263.21 L211.89 263.21 L212.69 263.21 L213.49 263.21 L214.29 263.21 L215.09 263.21 L215.89 263.21 L216.69 263.20 L217.49 263.20 L218.29 263.20 L219.09 263.20 L219.89 263.20 L220.69 263.20 L221.49 263.19 L222.30 263.19 L223.10 263.19 L223.90 263.19 L224.70 263.19 L225.50 263.18 L226.30 263.18 L227.10 263.18 L227.90 263.18 L228.70 263.17 L229.50 263.17 L230.30 263.17 L231.10 263.16 L231.90 263.16 L232.70 263.16 L233.50 263.15 L234.30 263.15 L235.10 263.14 L235.90 263.14 L236.70 263.14 L237.50 263.13 L238.30 263.13 L239.10 263.12 L239.90 263.12 L240.70 263.11 L241.50 263.11 L242.30 263.10 L243.10 263.09 L243.90 263.09 L244.70 263.08 L245.50 263.08 L246.30 263.07 L247.10 263.06 L247.91 263.05 L248.71 263.05 L249.51 263.04 L250.31 263.03 L251.11 263.02 L251.91 263.01 L252.71 263.00 L253.51 262.99 L254.31 262.98 L255.11 262.97 L255.91 262.95 L256.71 262.94 L257.51 262.93 L258.31 262.92 L259.11 262.90 L259.91 262.89 L260.71 262.87 L261.51 262.86 L262.31 262.84 L263.11 262.82 L263.91 262.80 L264.71 262.79 L265.51 262.77 L266.31 262.74 L267.11 262.72 L267.91 262.70 L268.71 262.68 L269.51 262.65 L270.31 262.63 L271.11 262.60 L271.91 262.57 L272.71 262.54 L273.51 262.51 L274.31 262.48 L275.11 262.45 L275.91 262.42 L276.71 262.38 L277.51 262.34 L278.31 262.30 L279.11 262.26 L279.90 262.22 L280.70 262.18 L281.50 262.13 L282.30 262.08 L283.10 262.03 L283.90 261.98 L284.70 261.93 L285.50 261.87 L286.29 261.81 L287.09 261.75 L287.89 261.69 L288.69 261.62 L289.49 261.55 L290.28 261.48 L291.08 261.41 L291.88 261.33 L292.67 261.25 L293.47 261.17 L294.26 261.08 L295.06 260.99 L295.85 260.89 L296.65 260.80 L297.44 260.69 L298.23 260.59 L299.03 260.48 L299.82 260.37 L300.61 260.25 L301.40 260.13 L302.19 260.00 L302.98 259.87 L303.77 259.73 L304.56 259.59 L305.35 259.45 L306.13 259.30 L306.92 259.14 L307.70 258.98 L308.48 258.82 L309.27 258.65 L310.05 258.47 L310.83 258.29 L311.61 258.10 L312.38 257.91 L313.16 257.71 L313.93 257.51 L314.70 257.30 L315.48 257.09 L316.25 256.87 L317.01 256.64 L317.78 256.41 L318.54 256.18 L319.31 255.94 L320.07 255.69 L320.83 255.44 L321.59 255.18 L322.34 254.91 L323.09 254.64 L323.85 254.37 L324.60 254.09 L325.34 253.80 L326.09 253.51 L326.83 253.22 L327.58 252.92 L328.32 252.62 L329.05 252.31 L329.79 251.99 L330.52 251.67 L331.26 251.35 L331.99 251.02 L332.72 250.69 L333.44 250.36 L334.17 250.02 L334.89 249.67 L335.61 249.32 L336.33 248.97 L337.05 248.62 L337.76 248.26 L338.47 247.89 L339.18 247.53 L339.89 247.16 L340.60 246.78 L341.31 246.41 L342.01 246.02 L342.71 245.64 L343.42 245.25 L344.11 244.86 L344.81 244.47 L345.51 244.07 L346.20 243.67 L346.89 243.27 L347.58 242.87 L348.27 242.46 L348.95 242.04 L349.64 241.63 L350.32 241.21 L351.00 240.79 L351.68 240.37 L352.36 239.94 L353.03 239.51 L353.70 239.07 L354.38 238.64 L355.04 238.20 L355.71 237.76 L356.38 237.31 L357.04 236.86 L357.70 236.41 L358.36 235.96 L359.02 235.50 L359.67 235.04 L360.33 234.58 L360.98 234.12 L361.63 233.65 L362.27 233.18 L362.92 232.70 L363.56 232.23 L364.20 231.75 L364.84 231.27 L365.48 230.78 L366.12 230.30 L366.75 229.81 L367.38 229.31 L368.01 228.82 L368.64 228.32 L369.26 227.82 L369.89 227.32 L370.51 226.82 L371.13 226.31 L371.75 225.80 L372.36 225.29 L372.98 224.78 L373.59 224.27 L374.20 223.75 L374.81 223.23 L375.42 222.71 L376.03 222.19 L376.63 221.67 L377.24 221.15 L377.84 220.62 L378.44 220.09 L379.04 219.56 L379.64 219.03 L380.24 218.50 L380.84 217.96 L381.43 217.43 L382.03 216.89 L382.62 216.36 L383.21 215.82 L383.80 215.28 L384.39 214.74 L384.98 214.20 L385.57 213.66 L386.16 213.11 L386.75 212.57 L387.34 212.03 L387.92 211.48 L388.51 210.94 L389.09 210.39 L389.68 209.84 L390.26 209.29 L390.84 208.75 L391.43 208.20 L392.01 207.65 L392.59 207.10 L393.17 206.55 L393.75 206.00 L394.33 205.45 L394.92 204.90 L395.50 204.35 L396.08 203.80 L396.66 203.24 L397.23 202.69 L397.81 202.14 L398.39 201.59 L398.97 201.04 L399.55 200.48 L400.13 199.93 L400.71 199.38 L401.29 198.82 L401.86 198.27 L402.44 197.71 L403.02 197.16 L403.60 196.61 L404.17 196.05 L404.75 195.50 L405.33 194.94 L405.90 194.39 L406.48 193.83 L407.05 193.27 L407.63 192.72 L408.21 192.16 L408.78 191.61 L409.36 191.05 L409.93 190.49 L410.51 189.94 L411.08 189.38 L411.66 188.82 L412.23 188.27 L412.80 187.71 L413.38 187.15 L413.95 186.59 L414.53 186.04 L415.10 185.48 L415.68 184.92 L416.25 184.36 L416.83 183.81 L417.40 183.25 L417.98 182.69 L418.55 182.14 L419.13 181.58 L419.70 181.03 L420.28 180.47 L420.86 179.92 L421.44 179.37 L422.01 178.81 L422.59 178.26 L423.18 177.71 L423.76 177.16 L424.34 176.61 L424.92 176.07 L425.51 175.52 L426.10 174.98 L426.69 174.43 L427.28 173.89 L427.87 173.36 L428.46 172.82 L429.06 172.29 L429.66 171.75 L430.26 171.23 L430.86 170.70 L431.47 170.18 L432.08 169.66 L432.69 169.14 L433.30 168.63 L433.92 168.12 L434.54 167.62 L435.17 167.12 L435.80 166.62 L436.43 166.13 L437.06 165.64 L437.70 165.16 L438.35 164.68 L438.99 164.21 L439.64 163.75 L440.30 163.29 L440.96 162.84 L441.63 162.39 L442.30 161.96 L442.97 161.52 L443.65 161.10 L444.33 160.68 L445.02 160.27 L445.71 159.87 L446.41 159.48 L447.11 159.09 L447.82 158.72 L448.53 158.35 L449.24 157.99 L449.96 157.64 L450.69 157.30 L451.41 156.96 L452.14 156.64 L452.88 156.33 L453.62 156.02 L454.36 155.72 L455.11 155.44 L455.86 155.16 L456.61 154.89 L457.37 154.63 L458.13 154.37 L458.89 154.13 L459.66 153.90 L460.43 153.67 L461.20 153.45 L461.97 153.24 L462.74 153.04 L463.52 152.84 L464.30 152.66 L465.08 152.48 L465.86 152.31 L466.64 152.14 L467.43 151.98 L468.21 151.83 L469.00 151.68 L469.79 151.54 L470.57 151.41 L471.36 151.28 L472.16 151.16 L472.95 151.04 L473.74 150.93 L474.53 150.82 L475.33 150.72 L476.12 150.62 L476.92 150.52 L477.71 150.43 L478.51 150.35 L479.30 150.27 L480.10 150.19 L480.90 150.11 L481.69 150.04 L482.49 149.97 L483.29 149.91 L484.09 149.85 L484.88 149.79 L485.68 149.73 L486.48 149.67 L487.28 149.62 L488.08 149.57 L488.88 149.53 L489.68 149.48 L490.48 149.44 L491.27 149.40 L492.07 149.36 L492.87 149.32 L493.67 149.28 L494.47 149.25 L495.27 149.22 L496.07 149.19 L496.87 149.16 L497.67 149.13 L498.47 149.10 L499.27 149.07 L500.07 149.05 L500.87 149.03 L501.67 149.00 L502.47 148.98 L503.27 148.96 L504.07 148.94 L504.87 148.92 L505.67 148.90 L506.47 148.89 L507.27 148.87 L508.07 148.85 L508.87 148.84 L509.67 148.83 L510.47 148.81 L511.27 148.80 L512.07 148.79 L512.87 148.77 L513.67 148.76 L514.47 148.75 L515.27 148.74 L516.07 148.73 L516.87 148.72 L517.67 148.71 L518.48 148.70 L519.28 148.69 L520.08 148.69 L520.88 148.68 L521.68 148.67 L522.48 148.66 L523.28 148.66 L524.08 148.65 L524.88 148.64 L525.68 148.64 L526.48 148.63 L527.28 148.63 L528.08 148.62 L528.88 148.62 L529.68 148.61 L530.48 148.61 L531.28 148.60 L532.08 148.60 L532.88 148.60 L533.68 148.59 L534.48 148.59 L535.28 148.58 L536.08 148.58 L536.88 148.58 L537.68 148.58 L538.48 148.57 L539.28 148.57 L540.08 148.57 L540.88 148.56 L541.68 148.56 L542.48 148.56 L543.28 148.56 L544.09 148.55 L544.89 148.55 L545.69 148.55 L546.49 148.55 L547.29 148.55 L548.09 148.54 L548.89 148.54 L549.69 148.54 L550.49 148.54 L551.29 148.54 L552.09 148.54 L552.89 148.54 L553.69 148.53 L554.49 148.53 L555.29 148.53 L556.09 148.53 L556.89 148.53 L557.69 148.53 L558.49 148.53 L559.29 148.53 L560.09 148.53 L560.89 148.52 L561.69 148.52 L562.49 148.52 L563.29 148.52 L564.09 148.52 L564.89 148.52 L565.69 148.52 L566.49 148.52 L567.29 148.52 L568.09 148.52 L568.90 148.52 L569.70 148.52 L570.50 148.52 L571.30 148.51 L572.10 148.51 L572.90 148.51 L573.70 148.51 L574.50 148.51 L575.30 148.51 L576.10 148.51 L576.90 148.51 L577.70 148.51 L578.50 148.51 L579.30 148.51 L580.10 148.51 L580.90 148.51" stroke="#0000ff"/>
<path d="M111.05 575.59 L111.85 575.59 L112.65 575.59 L113.45 575.59 L114.25 575.59 L115.05 575.59 L115.85 575.59 L116.65 575.59 L117.45 575.59 L118.25 575.59 L119.05 575.59 L119.85 575.59 L120.65 575.59 L121.45 575.59 L122.25 575.59 L123.05 575.59 L123.85 575.59 L124.65 575.59 L125.45 575.59 L126.25 575.59 L127.05 575.59 L127.85 575.59 L128.65 575.59 L129.45 575.59 L130.25 575.59 L131.05 575.59 L131.85 575.59 L132.65 575.59 L133.46 575.59 L134.26 575.59 L135.06 575.59 L135.86 575.59 L136.66 575.59 L137.46 575.59 L138.26 575.59 L139.06 575.59 L139.86 575.59 L140.66 575.59 L141.46 575.59 L142.26 575.59 L143.06 575.59 L143.86 575.59 L144.66 575.59 L145.46 575.59 L146.26 575.59 L147.06 575.59 L147.86 575.59 L148.66 575.59 L149.46 575.59 L150.26 575.59 L151.06 575.59 L151.86 575.59 L152.66 575.59 L153.46 575.59 L154.26 575.59 L155.06 575.59 L155.86 575.59 L156.66 575.59 L157.46 575.59 L158.26 575.59 L159.06 575.59 L159.86 575.59 L160.66 575.59 L161.46 575.59 L162.26 575.59 L163.06 575.59 L163.86 575.59 L164.66 575.59 L165.46 575.59 L166.26 575.59 L167.06 575.59 L167.86 575.59 L168.66 575.59 L169.46 575.59 L170.26 575.59 L171.06 575.59 L171.86 575.59 L172.66 575.59 L173.46 575.59 L174.26 575.59 L175.06 575.59 L175.86 575.59 L176.66 575.59 L177.46 575.59 L178.27 575.59 L179.07 575.59 L179.87 575.59 L180.67 575.59 L181.47 575.59 L182.27 575.59 L183.07 575.59 L183.87 575.59 L184.67 575.59 L185.47 575.59 L186.27 575.59 L187.07 575.59 L187.87 575.59 L188.67 575.59 L189.47 575.59 L190.27 575.59 L191.07 575.59 L191.87 575.59 L192.67 575.59 L193.47 575.59 L194.27 575.59 L195.07 575.59 L195.87 575.59 L196.67 575.59 L197.47 575.59 L198.27 575.59 L199.07 575.59 L199.87 575.59 L200.67 575.59 L201.47 575.59 L202.27 575.59 L203.07 575.59 L203.87 575.59 L204.67 575.59 L205.47 575.59 L206.27 575.59 L207.07 575.59 L207.87 575.59 L208.67 575.59 L209.47 575.59 L210.27 575.59 L211.07 575.59 L211.87 575.59 L212.67 575.59 L213.47 575.59 L214.27 575.59 L215.07 575.58 L215.87 575.58 L216.67 575.58 L217.47 575.58 L218.27 575.58 L219.07 575.58 L219.87 575.58 L220.67 575.58 L221.47 575.58 L222.27 575.58 L223.08 575.58 L223.88 575.58 L224.68 575.58 L225.48 575.58 L226.28 575.58 L227.08 575.58 L227.88 575.57 L228.68 575.57 L229.48 575.57 L230.28 575.57 L231.08 575.57 L231.88 575.57 L232.68 575.57 L233.48 575.57 L234.28 575.57 L235.08 575.57 L235.88 575.56 L236.68 575.56 L237.48 575.56 L238.28 575.56 L239.08 575.56 L239.88 575.56 L240.68 575.55 L241.48 575.55 L242.28 575.55 L243.08 575.55 L243.88 575.55 L244.68 575.54 L245.48 575.54 L246.28 575.54 L247.08 575.54 L247.88 575.53 L248.68 575.53 L249.48 575.53 L250.28 575.53 L251.08 575.52 L251.88 575.52 L252.68 575.51 L253.48 575.51 L254.28 575.51 L255.08 575.50 L255.88 575.50 L256.68 575.49 L257.48 575.49 L258.28 575.48 L259.08 575.48 L259.88 575.47 L260.68 575.47 L261.48 575.46 L262.28 575.46 L263.08 575.45 L263.88 575.44 L264.68 575.44 L265.48 575.43 L266.28 575.42 L267.08 575.41 L267.88 575.40 L268.68 575.39 L269.48 575.38 L270.29 575.37 L271.09 575.36 L271.89 575.35 L272.69 575.34 L273.49 575.33 L274.29 575.32 L275.09 575.30 L275.89 575.29 L276.69 575.28 L277.49 575.26 L278.29 575.24 L279.09 575.23 L279.89 575.21 L280.69 575.19 L281.49 575.17 L282.29 575.15 L283.09 575.13 L283.89 575.11 L284.69 575.09 L285.49 575.06 L286.28 575.04 L287.08 575.01 L287.88 574.99 L288.68 574.96 L289.48 574.93 L290.28 574.90 L291.08 574.86 L291.88 574.83 L292.68 574.79 L293.48 574.76 L294.28 574.72 L295.08 574.68 L295.88 574.63 L296.68 574.59 L297.48 574.54 L298.27 574.49 L299.07 574.44 L299.87 574.39 L300.67 574.33 L301.47 574.27 L302.27 574.21 L303.06 574.14 L303.86 574.08 L304.66 574.01 L305.45 573.93 L306.25 573.86 L307.05 573.78 L307.84 573.69 L308.64 573.61 L309.43 573.52 L310.23 573.42 L311.02 573.32 L311.82 573.22 L312.61 573.11 L313.40 573.00 L314.19 572.88 L314.98 572.76 L315.77 572.63 L316.56 572.50 L317.35 572.36 L318.14 572.22 L318.92 572.07 L319.71 571.91 L320.49 571.75 L321.27 571.59 L322.06 571.41 L322.84 571.23 L323.61 571.05 L324.39 570.85 L325.16 570.65 L325.94 570.44 L326.71 570.23 L327.48 570.00 L328.24 569.77 L329.01 569.53 L329.77 569.29 L330.53 569.03 L331.28 568.77 L332.03 568.50 L332.79 568.22 L333.53 567.93 L334.28 567.64 L335.02 567.34 L335.75 567.03 L336.49 566.71 L337.22 566.38 L337.94 566.04 L338.67 565.70 L339.38 565.35 L340.10 564.99 L340.81 564.62 L341.52 564.24 L342.22 563.86 L342.92 563.47 L343.61 563.07 L344.30 562.67 L344.99 562.25 L345.67 561.84 L346.35 561.41 L347.02 560.98 L347.69 560.54 L348.36 560.09 L349.02 559.64 L349.67 559.19 L350.33 558.73 L350.98 558.26 L351.62 557.79 L352.27 557.31 L352.91 556.83 L353.54 556.34 L354.17 555.85 L354.80 555.36 L355.43 554.86 L356.05 554.36 L356.67 553.85 L357.29 553.35 L357.91 552.83 L358.52 552.32 L359.13 551.80 L359.74 551.28 L360.34 550.76 L360.95 550.24 L361.55 549.71 L362.15 549.18 L362.75 548.65 L363.35 548.12 L363.95 547.59 L364.54 547.05 L365.14 546.52 L365.73 545.98 L366.32 545.44 L366.92 544.91 L367.51 544.37 L368.10 543.83 L368.69 543.29 L369.28 542.75 L369.88 542.21 L370.47 541.68 L371.06 541.14 L371.65 540.60 L372.25 540.06 L372.84 539.53 L373.43 538.99 L374.03 538.45 L374.62 537.92 L375.22 537.39 L375.82 536.85 L376.41 536.32 L377.01 535.79 L377.61 535.26 L378.21 534.73 L378.81 534.20 L379.42 533.68 L380.02 533.15 L380.62 532.63 L381.23 532.10 L381.83 531.58 L382.44 531.06 L383.05 530.53 L383.65 530.01 L384.26 529.49 L384.87 528.97 L385.47 528.45 L386.08 527.92 L386.68 527.40 L387.29 526.87 L387.89 526.35 L388.49 525.82 L389.09 525.29 L389.69 524.76 L390.28 524.22 L390.87 523.68 L391.46 523.14 L392.05 522.60 L392.63 522.05 L393.21 521.49 L393.78 520.93 L394.34 520.37 L394.90 519.80 L395.46 519.22 L396.01 518.64 L396.55 518.05 L397.08 517.45 L397.61 516.85 L398.13 516.24 L398.64 515.63 L399.15 515.01 L399.65 514.38 L400.13 513.74 L400.61 513.10 L401.09 512.46 L401.55 511.81 L402.00 511.15 L402.45 510.48 L402.89 509.82 L403.32 509.14 L403.75 508.46 L404.16 507.78 L404.57 507.09 L404.97 506.40 L405.36 505.70 L405.75 505.00 L406.13 504.30 L406.50 503.59 L406.87 502.88 L407.23 502.16 L407.58 501.45 L407.93 500.73 L408.28 500.00 L408.61 499.28 L408.95 498.55 L409.27 497.82 L409.60 497.09 L409.91 496.35 L410.23 495.62 L410.54 494.88 L410.84 494.14 L411.14 493.40 L411.44 492.65 L411.73 491.91 L412.02 491.16 L412.31 490.42 L412.59 489.67 L412.87 488.92 L413.15 488.17 L413.43 487.42 L413.70 486.66 L413.97 485.91 L414.23 485.16 L414.50 484.40 L414.76 483.64 L415.02 482.89 L415.27 482.13 L415.53 481.37 L415.78 480.61 L416.03 479.85 L416.28 479.09 L416.53 478.33 L416.78 477.57 L417.02 476.81 L417.26 476.05 L417.51 475.28 L417.74 474.52 L417.98 473.76 L418.22 472.99 L418.46 472.23 L418.69 471.46 L418.92 470.70 L419.16 469.93 L419.39 469.16 L419.62 468.40 L419.85 467.63 L420.07 466.86 L420.30 466.10 L420.53 465.33 L420.75 464.56 L420.97 463.79 L421.20 463.02 L421.42 462.26 L421.64 461.49 L421.86 460.72 L422.08 459.95 L422.30 459.18 L422.52 458.41 L422.74 457.64 L422.95 456.87 L423.17 456.10 L423.39 455.33 L423.60 454.56 L423.81 453.79 L424.03 453.01 L424.24 452.24 L424.45 451.47 L424.66 450.70 L424.87 449.93 L425.08 449.15 L425.29 448.38 L425.50 447.61 L425.71 446.84 L425.91 446.06 L426.12 445.29 L426.32 444.52 L426.53 443.74 L426.73 442.97 L426.93 442.19 L427.13 441.42 L427.34 440.65 L427.54 439.87 L427.73 439.10 L427.93 438.32 L428.13 437.55 L428.33 436.77 L428.52 435.99 L428.72 435.22 L428.91 434.44 L429.10 433.66 L429.30 432.89 L429.49 432.11 L429.68 431.33 L429.87 430.56 L430.05 429.78 L430.24 429.00 L430.43 428.22 L430.61 427.44 L430.80 426.67 L430.98 425.89 L431.16 425.11 L431.34 424.33 L431.52 423.55 L431.70 422.77 L431.88 421.99 L432.06 421.21 L432.24 420.43 L432.41 419.65 L432.58 418.87 L432.76 418.08 L432.93 417.30 L433.10 416.52 L433.27 415.74 L433.44 414.96 L433.61 414.17 L433.78 413.39 L433.94 412.61 L434.11 411.83 L434.27 411.04 L434.43 410.26 L434.60 409.48 L434.76 408.69 L434.92 407.91 L435.08 407.12 L435.24 406.34 L435.39 405.56 L435.55 404.77 L435.71 403.99 L435.86 403.20 L436.02 402.42 L436.17 401.63 L436.32 400.85 L436.47 400.06 L436.62 399.27 L436.77 398.49 L436.92 397.70 L437.07 396.92 L437.22 396.13 L437.37 395.34 L437.51 394.56 L437.66 393.77 L437.80 392.98 L437.95 392.19 L438.09 391.41 L438.23 390.62 L438.37 389.83 L438.52 389.05 L438.66 388.26 L438.80 387.47 L438.94 386.68 L439.07 385.89 L439.21 385.11 L439.35 384.32 L439.49 383.53 L439.62 382.74 L439.76 381.95 L439.90 381.16 L440.03 380.37 L440.16 379.59 L440.30 378.80 L440.43 378.01 L440.56 377.22 L440.70 376.43 L440.83 375.64 L440.96 374.85 L441.09 374.06 L441.22 373.27 L441.35 372.48 L441.48 371.69 L441.61 370.90 L441.74 370.11 L441.87 369.32 L442.00 368.53 L442.13 367.74 L442.25 366.95 L442.38 366.16 L442.51 365.37 L442.64 364.58 L442.76 363.79 L442.89 363.00 L443.01 362.21 L443.14 361.42 L443.27 360.63 L443.39 359.84 L443.52 359.05 L443.64 358.26 L443.77 357.47 L443.89 356.68 L444.01 355.89 L444.14 355.10 L444.26 354.31 L444.39 353.52 L444.51 352.73 L444.63 351.94 L444.76 351.15 L444.88 350.36 L445.00 349.57 L445.13 348.78 L445.25 347.99 L445.37 347.19 L445.49 346.40 L445.62 345.61 L445.74 344.82 L445.86 344.03 L445.98 343.24 L446.11 342.45 L446.23 341.66 L446.35 340.87 L446.47 340.08 L446.60 339.29 L446.72 338.50 L446.84 337.71 L446.96 336.91 L447.09 336.12 L447.21 335.33 L447.33 334.54 L447.45 333.75 L447.58 332.96 L447.70 332.17 L447.82 331.38 L447.94 330.59 L448.07 329.80 L448.19 329.01 L448.31 328.22 L448.44 327.43 L448.56 326.64 L448.68 325.85 L448.81 325.05 L448.93 324.26 L449.06 323.47 L449.18 322.68 L449.30 321.89 L449.43 321.10 L449.55 320.31 L449.68 319.52 L449.80 318.73 L449.93 317.94 L450.06 317.15 L450.18 316.36 L450.31 315.57 L450.43 314.78 L450.56 313.99 L450.69 313.20 L450.81 312.41 L450.94 311.62 L451.07 310.83 L451.20 310.04 L451.33 309.25 L451.45 308.46 L451.58 307.67 L451.71 306.88 L451.84 306.09 L451.97 305.30 L452.10 304.51 L452.23 303.72 L452.36 302.93 L452.49 302.14 L452.63 301.35 L452.76 300.57 L452.89 299.78 L453.02 298.99 L453.16 298.20 L453.29 297.41 L453.42 296.62 L453.56 295.83 L453.69 295.04 L453.83 294.25 L453.96 293.47 L454.10 292.68 L454.24 291.89 L454.37 291.10 L454.51 290.31 L454.65 289.52 L454.79 288.74 L454.93 287.95 L455.07 287.16 L455.21 286.37 L455.35 285.58 L455.49 284.80 L455.63 284.01 L455.77 283.22 L455.91 282.43 L456.06 281.65 L456.20 280.86 L456.35 280.07 L456.49 279.29 L456.64 278.50 L456.78 277.71 L456.93 276.93 L457.07 276.14 L457.22 275.35 L457.37 274.57 L457.52 273.78 L457.67 272.99 L457.82 272.21 L457.97 271.42 L458.12 270.64 L458.27 269.85 L458.43 269.07 L458.58 268.28 L458.73 267.49 L458.89 266.71 L459.04 265.92 L459.20 265.14 L459.36 264.35 L459.51 263.57 L459.67 262.79 L459.83 262.00 L459.99 261.22 L460.15 260.43 L460.31 259.65 L460.47 258.87 L460.63 258.08 L460.80 257.30 L460.96 256.52 L461.13 255.73 L461.29 254.95 L461.46 254.17 L461.62 253.38 L461.79 252.60 L461.96 251.82 L462.13 251.04 L462.30 250.26 L462.47 249.47 L462.64 248.69 L462.81 247.91 L462.99 247.13 L463.16 246.35 L463.34 245.57 L463.51 244.79 L463.69 244.01 L463.87 243.23 L464.05 242.45 L464.22 241.67 L464.40 240.89 L464.59 240.11 L464.77 239.33 L464.95 238.55 L465.14 237.77 L465.32 236.99 L465.51 236.21 L465.69 235.44 L465.88 234.66 L466.07 233.88 L466.26 233.10 L466.45 232.33 L466.64 231.55 L466.84 230.77 L467.03 230.00 L467.23 229.22 L467.42 228.45 L467.62 227.67 L467.82 226.90 L468.02 226.12 L468.22 225.35 L468.42 224.57 L468.63 223.80 L468.83 223.02 L469.04 222.25 L469.25 221.48 L469.45 220.71 L469.66 219.93 L469.88 219.16 L470.09 218.39 L470.30 217.62 L470.52 216.85 L470.74 216.08 L470.96 215.31 L471.18 214.54 L471.40 213.77 L471.62 213.00 L471.85 212.24 L472.07 211.47 L472.30 210.70 L472.53 209.93 L472.76 209.17 L473.00 208.40 L473.23 207.64 L473.47 206.87 L473.71 206.11 L473.95 205.35 L474.19 204.59 L474.44 203.82 L474.69 203.06 L474.94 202.30 L475.19 201.54 L475.44 200.79 L475.70 200.03 L475.96 199.27 L476.22 198.51 L476.49 197.76 L476.75 197.01 L477.02 196.25 L477.30 195.50 L477.57 194.75 L477.85 194.00 L478.13 193.25 L478.41 192.50 L478.70 191.75 L478.99 191.01 L479.29 190.26 L479.58 189.52 L479.89 188.78 L480.19 188.04 L480.50 187.30 L480.81 186.57 L481.13 185.83 L481.45 185.10 L481.77 184.37 L482.10 183.64 L482.44 182.91 L482.77 182.18 L483.12 181.46 L483.47 180.74 L483.82 180.02 L484.18 179.31 L484.54 178.60 L484.91 177.89 L485.29 177.18 L485.67 176.48 L486.06 175.78 L486.45 175.08 L486.85 174.39 L487.26 173.70 L487.68 173.02 L488.10 172.34 L488.53 171.66 L488.97 170.99 L489.41 170.33 L489.87 169.67 L490.33 169.01 L490.80 168.37 L491.28 167.73 L491.77 167.09 L492.26 166.47 L492.77 165.85 L493.29 165.24 L493.82 164.63 L494.35 164.04 L494.90 163.46 L495.46 162.88 L496.02 162.32 L496.60 161.76 L497.19 161.22 L497.79 160.69 L498.40 160.17 L499.02 159.66 L499.65 159.17 L500.29 158.69 L500.93 158.22 L501.59 157.77 L502.26 157.33 L502.94 156.90 L503.63 156.49 L504.32 156.10 L505.03 155.72 L505.74 155.35 L506.45 154.99 L507.18 154.66 L507.91 154.33 L508.65 154.02 L509.39 153.72 L510.14 153.44 L510.89 153.17 L511.65 152.91 L512.41 152.67 L513.18 152.44 L513.95 152.21 L514.72 152.00 L515.49 151.81 L516.27 151.62 L517.05 151.44 L517.83 151.27 L518.62 151.11 L519.40 150.96 L520.19 150.81 L520.98 150.68 L521.77 150.55 L522.56 150.43 L523.35 150.32 L524.14 150.21 L524.94 150.11 L525.73 150.01 L526.53 149.92 L527.32 149.84 L528.12 149.76 L528.92 149.68 L529.71 149.61 L530.51 149.54 L531.31 149.48 L532.11 149.42 L532.90 149.36 L533.70 149.31 L534.50 149.26 L535.30 149.21 L536.10 149.17 L536.90 149.13 L537.70 149.09 L538.50 149.05 L539.30 149.02 L540.10 148.98 L540.90 148.95 L541.70 148.92 L542.50 148.90 L543.29 148.87 L544.09 148.85 L544.89 148.82 L545.69 148.80 L546.49 148.78 L547.29 148.76 L548.09 148.75 L548.89 148.73 L549.69 148.71 L550.49 148.70 L551.29 148.68 L552.09 148.67 L552.89 148.66 L553.69 148.65 L554.49 148.64 L555.29 148.63 L556.09 148.62 L556.90 148.61 L557.70 148.60 L558.50 148.59 L559.30 148.58 L560.10 148.57 L560.90 148.57 L561.70 148.56 L562.50 148.56 L563.30 148.55 L564.10 148.54 L564.90 148.54 L565.70 148.53 L566.50 148.53 L567.30 148.53 L568.10 148.52 L568.90 148.52 L569.70 148.51 L570.50 148.51 L571.30 148.51 L572.10 148.51 L572.90 148.50 L573.70 148.50 L574.50 148.50 L575.30 148.50 L576.10 148.49 L576.90 148.49 L577.70 148.49 L578.50 148.49 L579.30 148.49 L580.10 148.48 L580.90 148.48" stroke="#ff0000" stroke-dasharray="10.7 8.0" stroke-dashoffset="1.5"/>
<path d="M111.05 403.51 L111.85 403.51 L112.65 403.51 L113.45 403.51 L114.25 403.51 L115.05 403.51 L115.85 403.51 L116.65 403.51 L117.45 403.51 L118.25 403.51 L119.05 403.51 L119.85 403.51 L120.65 403.51 L121.46 403.51 L122.26 403.51 L123.06 403.51 L123.86 403.51 L124.66 403.51 L125.46 403.51 L126.26 403.51 L127.06 403.51 L127.86 403.51 L128.66 403.51 L129.46 403.51 L130.26 403.51 L131.06 403.51 L131.86 403.51 L132.66 403.51 L133.46 403.51 L134.26 403.51 L135.06 403.51 L135.86 403.51 L136.66 403.51 L137.46 403.51 L138.26 403.51 L139.06 403.51 L139.86 403.51 L140.66 403.51 L141.46 403.51 L142.27 403.51 L143.07 403.51 L143.87 403.51 L144.67 403.51 L145.47 403.51 L146.27 403.51 L147.07 403.51 L147.87 403.51 L148.67 403.51 L149.47 403.51 L150.27 403.51 L151.07 403.51 L151.87 403.51 L152.67 403.51 L153.47 403.51 L154.27 403.51 L155.07 403.51 L155.87 403.51 L156.67 403.51 L157.47 403.51 L158.27 403.51 L159.07 403.51 L159.87 403.51 L160.67 403.51 L161.47 403.51 L162.27 403.51 L163.08 403.51 L163.88 403.51 L164.68 403.51 L165.48 403.51 L166.28 403.51 L167.08 403.51 L167.88 403.51 L168.68 403.51 L169.48 403.51 L170.28 403.51 L171.08 403.51 L171.88 403.51 L172.68 403.51 L173.48 403.51 L174.28 403.51 L175.08 403.51 L175.88 403.51 L176.68 403.51 L177.48 403.51 L178.28 403.51 L179.08 403.51 L179.88 403.51 L180.68 403.51 L181.48 403.51 L182.28 403.51 L183.08 403.51 L183.89 403.51 L184.69 403.51 L185.49 403.51 L186.29 403.51 L187.09 403.51 L187.89 403.51 L188.69 403.51 L189.49 403.51 L190.29 403.51 L191.09 403.51 L191.89 403.51 L192.69 403.51 L193.49 403.51 L194.29 403.51 L195.09 403.51 L195.89 403.51 L196.69 403.51 L197.49 403.51 L198.29 403.51 L199.09 403.51 L199.89 403.51 L200.69 403.51 L201.49 403.51 L202.29 403.51 L203.09 403.51 L203.90 403.51 L204.70 403.51 L205.50 403.51 L206.30 403.51 L207.10 403.51 L207.90 403.51 L208.70 403.51 L209.50 403.51 L210.30 403.51 L211.10 403.51 L211.90 403.51 L212.70 403.51 L213.50 403.51 L214.30 403.51 L215.10 403.51 L215.90 403.51 L216.70 403.51 L217.50 403.51 L218.30 403.51 L219.10 403.51 L219.90 403.51 L220.70 403.51 L221.50 403.51 L222.30 403.51 L223.10 403.51 L223.90 403.51 L224.71 403.51 L225.51 403.51 L226.31 403.51 L227.11 403.51 L227.91 403.51 L228.71 403.51 L229.51 403.51 L230.31 403.51 L231.11 403.51 L231.91 403.51 L232.71 403.51 L233.51 403.51 L234.31 403.51 L235.11 403.51 L235.91 403.51 L236.71 403.51 L237.51 403.51 L238.31 403.51 L239.11 403.51 L239.91 403.51 L240.71 403.51 L241.51 403.51 L242.31 403.51 L243.11 403.51 L243.91 403.51 L244.71 403.51 L245.52 403.51 L246.32 403.51 L247.12 403.51 L247.92 403.51 L248.72 403.51 L249.52 403.51 L250.32 403.51 L251.12 403.51 L251.92 403.51 L252.72 403.51 L253.52 403.51 L254.32 403.51 L255.12 403.51 L255.92 403.51 L256.72 403.51 L257.52 403.51 L258.32 403.51 L259.12 403.51 L259.92 403.51 L260.72 403.51 L261.52 403.51 L262.32 403.51 L263.12 403.51 L263.92 403.51 L264.72 403.51 L265.52 403.51 L266.33 403.51 L267.13 403.51 L267.93 403.51 L268.73 403.51 L269.53 403.51 L270.33 403.51 L271.13 403.51 L271.93 403.51 L272.73 403.51 L273.53 403.51 L274.33 403.51 L275.13 403.51 L275.93 403.51 L276.73 403.51 L277.53 403.51 L278.33 403.51 L279.13 403.51 L279.93 403.51 L280.73 403.51 L281.53 403.51 L282.33 403.51 L283.13 403.51 L283.93 403.51 L284.73 403.51 L285.53 403.51 L286.33 403.51 L287.14 403.51 L287.94 403.51 L288.74 403.51 L289.54 403.51 L290.34 403.51 L291.14 403.51 L291.94 403.51 L292.74 403.51 L293.54 403.51 L294.34 403.51 L295.14 403.51 L295.94 403.51 L296.74 403.51 L297.54 403.51 L298.34 403.51 L299.14 403.51 L299.94 403.51 L300.74 403.51 L301.54 403.51 L302.34 403.51 L303.14 403.51 L303.94 403.51 L304.74 403.51 L305.54 403.51 L306.34 403.51 L307.15 403.51 L307.95 403.51 L308.75 403.51 L309.55 403.51 L310.35 403.51 L311.15 403.51 L311.95 403.51 L312.75 403.51 L313.55 403.51 L314.35 403.51 L315.15 403.51 L315.95 403.50 L316.75 403.50 L317.55 403.50 L318.35 403.50 L319.15 403.50 L319.95 403.50 L320.75 403.50 L321.55 403.50 L322.35 403.50 L323.15 403.50 L323.95 403.50 L324.75 403.50 L325.55 403.50 L326.35 403.50 L327.15 403.50 L327.96 403.50 L328.76 403.50 L329.56 403.50 L330.36 403.50 L331.16 403.50 L331.96 403.50 L332.76 403.50 L333.56 403.49 L334.36 403.49 L335.16 403.49 L335.96 403.49 L336.76 403.49 L337.56 403.49 L338.36 403.49 L339.16 403.49 L339.96 403.48 L340.76 403.48 L341.56 403.48 L342.36 403.48 L343.16 403.48 L343.96 403.47 L344.76 403.47 L345.56 403.47 L346.36 403.46 L347.16 403.46 L347.96 403.46 L348.77 403.45 L349.57 403.45 L350.37 403.44 L351.17 403.44 L351.97 403.43 L352.77 403.43 L353.57 403.42 L354.37 403.42 L355.17 403.41 L355.97 403.40 L356.77 403.39 L357.57 403.38 L358.37 403.38 L359.17 403.36 L359.97 403.35 L360.77 403.34 L361.57 403.33 L362.37 403.31 L363.17 403.30 L363.97 403.28 L364.77 403.27 L365.57 403.25 L366.37 403.23 L367.17 403.21 L367.97 403.18 L368.77 403.16 L369.57 403.13 L370.37 403.10 L371.17 403.07 L371.97 403.04 L372.77 403.00 L373.57 402.96 L374.37 402.92 L375.17 402.87 L375.97 402.83 L376.77 402.77 L377.56 402.72 L378.36 402.66 L379.16 402.59 L379.96 402.52 L380.76 402.45 L381.55 402.37 L382.35 402.29 L383.14 402.19 L383.94 402.10 L384.73 401.99 L385.52 401.88 L386.31 401.76 L387.11 401.64 L387.89 401.50 L388.68 401.36 L389.47 401.20 L390.25 401.04 L391.03 400.87 L391.81 400.69 L392.59 400.49 L393.36 400.29 L394.13 400.07 L394.90 399.85 L395.66 399.61 L396.42 399.35 L397.18 399.09 L397.93 398.81 L398.68 398.53 L399.42 398.22 L400.15 397.91 L400.89 397.58 L401.61 397.25 L402.33 396.89 L403.04 396.53 L403.75 396.16 L404.45 395.77 L405.15 395.37 L405.83 394.96 L406.52 394.54 L407.19 394.11 L407.86 393.67 L408.52 393.22 L409.17 392.76 L409.82 392.29 L410.46 391.81 L411.10 391.33 L411.73 390.83 L412.35 390.32 L412.96 389.81 L413.57 389.29 L414.17 388.76 L414.76 388.22 L415.35 387.68 L415.93 387.13 L416.50 386.57 L417.06 386.00 L417.62 385.42 L418.17 384.84 L418.71 384.25 L419.24 383.65 L419.77 383.05 L420.28 382.44 L420.79 381.82 L421.29 381.19 L421.78 380.56 L422.27 379.92 L422.74 379.28 L423.21 378.63 L423.67 377.97 L424.12 377.31 L424.56 376.64 L424.99 375.97 L425.42 375.29 L425.84 374.61 L426.25 373.92 L426.65 373.23 L427.05 372.54 L427.44 371.84 L427.82 371.14 L428.20 370.43 L428.57 369.72 L428.93 369.01 L429.29 368.29 L429.65 367.57 L429.99 366.85 L430.34 366.13 L430.68 365.41 L431.01 364.68 L431.34 363.95 L431.67 363.22 L431.99 362.49 L432.31 361.75 L432.62 361.01 L432.93 360.28 L433.24 359.54 L433.54 358.80 L433.84 358.06 L434.14 357.31 L434.44 356.57 L434.73 355.82 L435.02 355.08 L435.31 354.33 L435.59 353.58 L435.87 352.83 L436.16 352.09 L436.43 351.33 L436.71 350.58 L436.98 349.83 L437.26 349.08 L437.53 348.33 L437.80 347.57 L438.06 346.82 L438.33 346.06 L438.59 345.31 L438.85 344.55 L439.11 343.79 L439.37 343.04 L439.63 342.28 L439.88 341.52 L440.13 340.76 L440.39 340.00 L440.64 339.24 L440.88 338.48 L441.13 337.72 L441.38 336.95 L441.62 336.19 L441.86 335.43 L442.10 334.67 L442.34 333.90 L442.58 333.14 L442.81 332.37 L443.05 331.61 L443.28 330.84 L443.51 330.07 L443.74 329.31 L443.97 328.54 L444.19 327.77 L444.42 327.00 L444.64 326.24 L444.86 325.47 L445.09 324.70 L445.30 323.93 L445.52 323.16 L445.74 322.39 L445.95 321.62 L446.17 320.84 L446.38 320.07 L446.59 319.30 L446.80 318.53 L447.01 317.76 L447.21 316.98 L447.42 316.21 L447.62 315.43 L447.83 314.66 L448.03 313.89 L448.23 313.11 L448.43 312.34 L448.63 311.56 L448.83 310.79 L449.02 310.01 L449.22 309.23 L449.41 308.46 L449.60 307.68 L449.80 306.90 L449.99 306.13 L450.18 305.35 L450.37 304.57 L450.56 303.79 L450.74 303.01 L450.93 302.24 L451.11 301.46 L451.30 300.68 L451.48 299.90 L451.67 299.12 L451.85 298.34 L452.03 297.56 L452.21 296.78 L452.39 296.00 L452.57 295.22 L452.75 294.44 L452.93 293.66 L453.11 292.88 L453.28 292.10 L453.46 291.32 L453.64 290.54 L453.81 289.76 L453.99 288.98 L454.16 288.20 L454.33 287.41 L454.51 286.63 L454.68 285.85 L454.85 285.07 L455.03 284.29 L455.20 283.51 L455.37 282.73 L455.54 281.94 L455.71 281.16 L455.88 280.38 L456.05 279.60 L456.22 278.82 L456.39 278.03 L456.56 277.25 L456.73 276.47 L456.90 275.69 L457.07 274.90 L457.24 274.12 L457.41 273.34 L457.58 272.56 L457.74 271.77 L457.91 270.99 L458.08 270.21 L458.25 269.43 L458.42 268.64 L458.59 267.86 L458.76 267.08 L458.93 266.30 L459.09 265.52 L459.26 264.73 L459.43 263.95 L459.60 263.17 L459.77 262.39 L459.94 261.60 L460.11 260.82 L460.28 260.04 L460.45 259.26 L460.62 258.48 L460.79 257.69 L460.96 256.91 L461.13 256.13 L461.30 255.35 L461.48 254.57 L461.65 253.78 L461.82 253.00 L461.99 252.22 L462.17 251.44 L462.34 250.66 L462.52 249.88 L462.69 249.10 L462.87 248.32 L463.04 247.53 L463.22 246.75 L463.40 245.97 L463.57 245.19 L463.75 244.41 L463.93 243.63 L464.11 242.85 L464.29 242.07 L464.47 241.29 L464.66 240.51 L464.84 239.74 L465.02 238.96 L465.21 238.18 L465.39 237.40 L465.58 236.62 L465.77 235.84 L465.96 235.06 L466.15 234.29 L466.34 233.51 L466.53 232.73 L466.72 231.96 L466.92 231.18 L467.11 230.40 L467.31 229.63 L467.51 228.85 L467.71 228.08 L467.91 227.30 L468.11 226.53 L468.31 225.75 L468.51 224.98 L468.72 224.21 L468.93 223.43 L469.14 222.66 L469.35 221.89 L469.56 221.12 L469.77 220.34 L469.99 219.57 L470.21 218.80 L470.43 218.03 L470.65 217.27 L470.87 216.50 L471.10 215.73 L471.32 214.96 L471.55 214.19 L471.78 213.43 L472.02 212.66 L472.25 211.90 L472.49 211.13 L472.73 210.37 L472.98 209.61 L473.22 208.85 L473.47 208.08 L473.72 207.32 L473.97 206.57 L474.23 205.81 L474.49 205.05 L474.75 204.29 L475.01 203.54 L475.28 202.78 L475.55 202.03 L475.83 201.28 L476.10 200.53 L476.38 199.78 L476.67 199.03 L476.96 198.28 L477.25 197.54 L477.54 196.79 L477.84 196.05 L478.14 195.31 L478.45 194.57 L478.76 193.83 L479.07 193.09 L479.39 192.36 L479.71 191.63 L480.03 190.90 L480.36 190.17 L480.70 189.44 L481.04 188.71 L481.38 187.99 L481.73 187.27 L482.08 186.55 L482.44 185.84 L482.80 185.12 L483.17 184.41 L483.54 183.70 L483.92 183.00 L484.30 182.29 L484.69 181.59 L485.09 180.90 L485.49 180.20 L485.89 179.51 L486.30 178.83 L486.72 178.14 L487.14 177.46 L487.56 176.78 L488.00 176.11 L488.44 175.44 L488.88 174.78 L489.33 174.12 L489.79 173.46 L490.25 172.81 L490.72 172.16 L491.20 171.52 L491.69 170.88 L492.18 170.25 L492.67 169.62 L493.18 169.00 L493.69 168.38 L494.21 167.77 L494.73 167.17 L495.27 166.57 L495.81 165.98 L496.36 165.40 L496.91 164.83 L497.48 164.26 L498.05 163.70 L498.63 163.15 L499.22 162.60 L499.81 162.07 L500.42 161.55 L501.03 161.03 L501.65 160.53 L502.28 160.03 L502.92 159.55 L503.57 159.08 L504.22 158.61 L504.88 158.16 L505.55 157.73 L506.23 157.30 L506.91 156.89 L507.61 156.49 L508.31 156.10 L509.01 155.72 L509.73 155.36 L510.45 155.01 L511.17 154.67 L511.91 154.35 L512.64 154.04 L513.39 153.74 L514.14 153.46 L514.89 153.19 L515.65 152.93 L516.41 152.68 L517.17 152.44 L517.94 152.22 L518.71 152.00 L519.48 151.80 L520.26 151.61 L521.04 151.42 L521.82 151.25 L522.61 151.09 L523.39 150.93 L524.18 150.79 L524.97 150.65 L525.76 150.52 L526.55 150.40 L527.34 150.28 L528.13 150.17 L528.93 150.07 L529.72 149.97 L530.51 149.88 L531.31 149.79 L532.11 149.71 L532.90 149.64 L533.70 149.56 L534.50 149.50 L535.30 149.43 L536.09 149.37 L536.89 149.32 L537.69 149.27 L538.49 149.22 L539.29 149.17 L540.09 149.13 L540.89 149.09 L541.69 149.05 L542.49 149.01 L543.29 148.98 L544.09 148.95 L544.89 148.92 L545.69 148.89 L546.49 148.86 L547.29 148.84 L548.09 148.82 L548.89 148.80 L549.69 148.77 L550.49 148.76 L551.29 148.74 L552.09 148.72 L552.89 148.71 L553.69 148.69 L554.49 148.68 L555.29 148.66 L556.09 148.65 L556.89 148.64 L557.69 148.63 L558.49 148.62 L559.29 148.61 L560.09 148.60 L560.89 148.59 L561.69 148.59 L562.49 148.58 L563.29 148.57 L564.09 148.57 L564.89 148.56 L565.69 148.56 L566.49 148.55 L567.29 148.55 L568.09 148.54 L568.89 148.54 L569.69 148.53 L570.50 148.53 L571.30 148.53 L572.10 148.52 L572.90 148.52 L573.70 148.52 L574.50 148.51 L575.30 148.51 L576.10 148.51 L576.90 148.51 L577.70 148.50 L578.50 148.50 L579.30 148.50 L580.10 148.50 L580.90 148.50" stroke="#00ff00" stroke-dasharray="10.7 8.0"/>
<path d="M111.05 642.63 L111.85 642.63 L112.65 642.63 L113.45 642.63 L114.25 642.62 L115.05 642.62 L115.85 642.62 L116.65 642.62 L117.45 642.62 L118.26 642.62 L119.06 642.62 L119.86 642.62 L120.66 642.62 L121.46 642.62 L122.26 642.62 L123.06 642.62 L123.86 642.62 L124.66 642.62 L125.46 642.62 L126.26 642.62 L127.06 642.62 L127.86 642.62 L128.66 642.62 L129.46 642.61 L130.26 642.61 L131.07 642.61 L131.87 642.61 L132.67 642.61 L133.47 642.61 L134.27 642.61 L135.07 642.61 L135.87 642.61 L136.67 642.61 L137.47 642.61 L138.27 642.61 L139.07 642.61 L139.87 642.60 L140.67 642.60 L141.47 642.60 L142.27 642.60 L143.07 642.60 L143.88 642.60 L144.68 642.60 L145.48 642.60 L146.28 642.60 L147.08 642.60 L147.88 642.59 L148.68 642.59 L149.48 642.59 L150.28 642.59 L151.08 642.59 L151.88 642.59 L152.68 642.59 L153.48 642.59 L154.28 642.58 L155.08 642.58 L155.88 642.58 L156.69 642.58 L157.49 642.58 L158.29 642.58 L159.09 642.58 L159.89 642.57 L160.69 642.57 L161.49 642.57 L162.29 642.57 L163.09 642.57 L163.89 642.56 L164.69 642.56 L165.49 642.56 L166.29 642.56 L167.09 642.56 L167.89 642.56 L168.69 642.55 L169.50 642.55 L170.30 642.55 L171.10 642.55 L171.90 642.54 L172.70 642.54 L173.50 642.54 L174.30 642.54 L175.10 642.53 L175.90 642.53 L176.70 642.53 L177.50 642.53 L178.30 642.52 L179.10 642.52 L179.90 642.52 L180.70 642.52 L181.50 642.51 L182.30 642.51 L183.11 642.51 L183.91 642.50 L184.71 642.50 L185.51 642.50 L186.31 642.49 L187.11 642.49 L187.91 642.49 L188.71 642.48 L189.51 642.48 L190.31 642.47 L191.11 642.47 L191.91 642.47 L192.71 642.46 L193.51 642.46 L194.31 642.45 L195.11 642.45 L195.92 642.44 L196.72 642.44 L197.52 642.44 L198.32 642.43 L199.12 642.43 L199.92 642.42 L200.72 642.41 L201.52 642.41 L202.32 642.40 L203.12 642.40 L203.92 642.39 L204.72 642.39 L205.52 642.38 L206.32 642.37 L207.12 642.37 L207.92 642.36 L208.72 642.36 L209.53 642.35 L210.33 642.34 L211.13 642.34 L211.93 642.33 L212.73 642.32 L213.53 642.31 L214.33 642.31 L215.13 642.30 L215.93 642.29 L216.73 642.28 L217.53 642.27 L218.33 642.26 L219.13 642.26 L219.93 642.25 L220.73 642.24 L221.53 642.23 L222.33 642.22 L223.14 642.21 L223.94 642.20 L224.74 642.19 L225.54 642.18 L226.34 642.17 L227.14 642.16 L227.94 642.14 L228.74 642.13 L229.54 642.12 L230.34 642.11 L231.14 642.10 L231.94 642.08 L232.74 642.07 L233.54 642.06 L234.34 642.05 L235.14 642.03 L235.94 642.02 L236.74 642.00 L237.54 641.99 L238.35 641.97 L239.15 641.96 L239.95 641.94 L240.75 641.93 L241.55 641.91 L242.35 641.89 L243.15 641.88 L243.95 641.86 L244.75 641.84 L245.55 641.82 L246.35 641.81 L247.15 641.79 L247.95 641.77 L248.75 641.75 L249.55 641.73 L250.35 641.71 L251.15 641.69 L251.95 641.66 L252.75 641.64 L253.55 641.62 L254.35 641.60 L255.15 641.57 L255.95 641.55 L256.75 641.53 L257.55 641.50 L258.35 641.48 L259.15 641.45 L259.95 641.42 L260.75 641.40 L261.56 641.37 L262.36 641.34 L263.16 641.31 L263.96 641.28 L264.76 641.26 L265.56 641.22 L266.36 641.19 L267.16 641.16 L267.96 641.13 L268.76 641.10 L269.56 641.06 L270.36 641.03 L271.16 641.00 L271.95 640.96 L272.75 640.92 L273.55 640.89 L274.35 640.85 L275.15 640.81 L275.95 640.77 L276.75 640.73 L277.55 640.69 L278.35 640.65 L279.15 640.61 L279.95 640.57 L280.75 640.52 L281.55 640.48 L282.35 640.44 L283.15 640.39 L283.95 640.34 L284.75 640.30 L285.55 640.25 L286.35 640.20 L287.14 640.15 L287.94 640.10 L288.74 640.05 L289.54 639.99 L290.34 639.94 L291.14 639.89 L291.94 639.83 L292.74 639.78 L293.54 639.72 L294.33 639.66 L295.13 639.60 L295.93 639.54 L296.73 639.48 L297.53 639.42 L298.33 639.36 L299.12 639.29 L299.92 639.23 L300.72 639.16 L301.52 639.10 L302.31 639.03 L303.11 638.96 L303.91 638.89 L304.71 638.82 L305.51 638.75 L306.30 638.67 L307.10 638.60 L307.90 638.53 L308.69 638.45 L309.49 638.37 L310.29 638.29 L311.08 638.22 L311.88 638.14 L312.68 638.05 L313.47 637.97 L314.27 637.89 L315.07 637.80 L315.86 637.72 L316.66 637.63 L317.45 637.54 L318.25 637.45 L319.04 637.36 L319.84 637.27 L320.64 637.18 L321.43 637.08 L322.23 636.99 L323.02 636.89 L323.81 636.79 L324.61 636.70 L325.40 636.60 L326.20 636.49 L326.99 636.39 L327.79 636.29 L328.58 636.18 L329.37 636.08 L330.17 635.97 L330.96 635.86 L331.75 635.75 L332.54 635.64 L333.34 635.52 L334.13 635.41 L334.92 635.29 L335.71 635.17 L336.51 635.05 L337.30 634.93 L338.09 634.81 L338.88 634.69 L339.67 634.56 L340.46 634.43 L341.25 634.30 L342.04 634.17 L342.83 634.04 L343.62 633.90 L344.41 633.77 L345.20 633.63 L345.98 633.48 L346.77 633.34 L347.56 633.19 L348.34 633.04 L349.13 632.89 L349.92 632.74 L350.70 632.58 L351.49 632.42 L352.27 632.26 L353.05 632.10 L353.84 631.93 L354.62 631.76 L355.40 631.58 L356.18 631.40 L356.96 631.22 L357.74 631.03 L358.52 630.84 L359.29 630.65 L360.07 630.45 L360.84 630.24 L361.61 630.04 L362.39 629.82 L363.16 629.60 L363.93 629.38 L364.69 629.15 L365.46 628.91 L366.22 628.67 L366.98 628.42 L367.74 628.17 L368.50 627.91 L369.25 627.64 L370.00 627.36 L370.75 627.07 L371.50 626.78 L372.24 626.48 L372.97 626.17 L373.71 625.85 L374.44 625.52 L375.16 625.18 L375.88 624.83 L376.60 624.47 L377.31 624.10 L378.01 623.72 L378.71 623.33 L379.40 622.93 L380.09 622.51 L380.76 622.08 L381.43 621.64 L382.10 621.19 L382.75 620.73 L383.40 620.26 L384.03 619.77 L384.66 619.28 L385.28 618.77 L385.89 618.25 L386.49 617.72 L387.08 617.18 L387.66 616.63 L388.24 616.07 L388.80 615.51 L389.36 614.93 L389.90 614.35 L390.44 613.75 L390.97 613.15 L391.50 612.55 L392.01 611.93 L392.52 611.31 L393.02 610.69 L393.51 610.06 L394.00 609.42 L394.48 608.78 L394.95 608.14 L395.42 607.49 L395.89 606.84 L396.35 606.18 L396.80 605.52 L397.25 604.86 L397.69 604.19 L398.13 603.52 L398.56 602.85 L399.00 602.17 L399.42 601.50 L399.84 600.82 L400.26 600.13 L400.68 599.45 L401.09 598.76 L401.50 598.07 L401.90 597.38 L402.30 596.69 L402.70 595.99 L403.09 595.29 L403.48 594.59 L403.86 593.89 L404.24 593.19 L404.62 592.48 L405.00 591.78 L405.37 591.07 L405.74 590.36 L406.10 589.64 L406.46 588.93 L406.82 588.21 L407.17 587.49 L407.52 586.77 L407.87 586.05 L408.22 585.33 L408.56 584.60 L408.89 583.88 L409.23 583.15 L409.56 582.42 L409.88 581.69 L410.21 580.96 L410.53 580.22 L410.85 579.49 L411.16 578.75 L411.47 578.02 L411.78 577.28 L412.09 576.54 L412.39 575.80 L412.69 575.05 L412.98 574.31 L413.28 573.56 L413.57 572.82 L413.86 572.07 L414.14 571.32 L414.43 570.57 L414.71 569.82 L414.98 569.07 L415.26 568.32 L415.53 567.57 L415.80 566.82 L416.07 566.06 L416.33 565.31 L416.60 564.55 L416.86 563.79 L417.12 563.03 L417.37 562.28 L417.63 561.52 L417.88 560.76 L418.13 560.00 L418.38 559.23 L418.62 558.47 L418.87 557.71 L419.11 556.95 L419.35 556.18 L419.58 555.42 L419.82 554.65 L420.06 553.89 L420.29 553.12 L420.52 552.36 L420.75 551.59 L420.97 550.82 L421.20 550.05 L421.42 549.28 L421.65 548.51 L421.87 547.75 L422.09 546.98 L422.31 546.20 L422.52 545.43 L422.74 544.66 L422.95 543.89 L423.16 543.12 L423.37 542.35 L423.58 541.57 L423.79 540.80 L424.00 540.03 L424.20 539.25 L424.40 538.48 L424.61 537.70 L424.81 536.93 L425.01 536.15 L425.21 535.38 L425.41 534.60 L425.60 533.83 L425.80 533.05 L425.99 532.27 L426.19 531.50 L426.38 530.72 L426.57 529.94 L426.76 529.16 L426.95 528.39 L427.14 527.61 L427.32 526.83 L427.51 526.05 L427.70 525.27 L427.88 524.49 L428.06 523.71 L428.24 522.93 L428.43 522.15 L428.61 521.37 L428.79 520.59 L428.97 519.81 L429.14 519.03 L429.32 518.25 L429.50 517.47 L429.67 516.69 L429.85 515.91 L430.02 515.13 L430.19 514.35 L430.37 513.56 L430.54 512.78 L430.71 512.00 L430.88 511.22 L431.05 510.43 L431.22 509.65 L431.38 508.87 L431.55 508.09 L431.72 507.30 L431.88 506.52 L432.05 505.74 L432.21 504.95 L432.38 504.17 L432.54 503.39 L432.70 502.60 L432.87 501.82 L433.03 501.03 L433.19 500.25 L433.35 499.47 L433.51 498.68 L433.67 497.90 L433.82 497.11 L433.98 496.33 L434.14 495.54 L434.30 494.76 L434.45 493.97 L434.61 493.19 L434.76 492.40 L434.92 491.61 L435.07 490.83 L435.23 490.04 L435.38 489.26 L435.53 488.47 L435.69 487.69 L435.84 486.90 L435.99 486.11 L436.14 485.33 L436.29 484.54 L436.44 483.75 L436.59 482.97 L436.74 482.18 L436.89 481.39 L437.04 480.61 L437.19 479.82 L437.33 479.03 L437.48 478.25 L437.63 477.46 L437.77 476.67 L437.92 475.89 L438.06 475.10 L438.21 474.31 L438.35 473.52 L438.50 472.74 L438.64 471.95 L438.79 471.16 L438.93 470.37 L439.07 469.59 L439.22 468.80 L439.36 468.01 L439.50 467.22 L439.64 466.43 L439.78 465.65 L439.92 464.86 L440.06 464.07 L440.21 463.28 L440.35 462.49 L440.49 461.71 L440.62 460.92 L440.76 460.13 L440.90 459.34 L441.04 458.55 L441.18 457.76 L441.32 456.97 L441.46 456.19 L441.59 455.40 L441.73 454.61 L441.87 453.82 L442.00 453.03 L442.14 452.24 L442.28 451.45 L442.41 450.66 L442.55 449.87 L442.68 449.09 L442.82 448.30 L442.95 447.51 L443.09 446.72 L443.22 445.93 L443.36 445.14 L443.49 444.35 L443.62 443.56 L443.76 442.77 L443.89 441.98 L444.02 441.19 L444.16 440.40 L444.29 439.61 L444.42 438.82 L444.55 438.03 L444.69 437.24 L444.82 436.45 L444.95 435.66 L445.08 434.87 L445.21 434.09 L445.34 433.30 L445.47 432.51 L445.61 431.72 L445.74 430.93 L445.87 430.14 L446.00 429.35 L446.13 428.56 L446.26 427.77 L446.39 426.98 L446.52 426.19 L446.64 425.40 L446.77 424.61 L446.90 423.82 L447.03 423.03 L447.16 422.23 L447.29 421.44 L447.42 420.65 L447.55 419.86 L447.67 419.07 L447.80 418.28 L447.93 417.49 L448.06 416.70 L448.18 415.91 L448.31 415.12 L448.44 414.33 L448.57 413.54 L448.69 412.75 L448.82 411.96 L448.95 411.17 L449.07 410.38 L449.20 409.59 L449.33 408.80 L449.45 408.01 L449.58 407.22 L449.70 406.43 L449.83 405.64 L449.96 404.84 L450.08 404.05 L450.21 403.26 L450.33 402.47 L450.46 401.68 L450.58 400.89 L450.71 400.10 L450.83 399.31 L450.96 398.52 L451.08 397.73 L451.21 396.94 L451.33 396.15 L451.46 395.35 L451.58 394.56 L451.70 393.77 L451.83 392.98 L451.95 392.19 L452.08 391.40 L452.20 390.61 L452.32 389.82 L452.45 389.03 L452.57 388.24 L452.70 387.45 L452.82 386.65 L452.94 385.86 L453.07 385.07 L453.19 384.28 L453.31 383.49 L453.44 382.70 L453.56 381.91 L453.68 381.12 L453.80 380.33 L453.93 379.53 L454.05 378.74 L454.17 377.95 L454.30 377.16 L454.42 376.37 L454.54 375.58 L454.66 374.79 L454.79 374.00 L454.91 373.21 L455.03 372.41 L455.15 371.62 L455.28 370.83 L455.40 370.04 L455.52 369.25 L455.64 368.46 L455.76 367.67 L455.89 366.88 L456.01 366.08 L456.13 365.29 L456.25 364.50 L456.37 363.71 L456.50 362.92 L456.62 362.13 L456.74 361.34 L456.86 360.55 L456.98 359.75 L457.11 358.96 L457.23 358.17 L457.35 357.38 L457.47 356.59 L457.59 355.80 L457.72 355.01 L457.84 354.21 L457.96 353.42 L458.08 352.63 L458.20 351.84 L458.32 351.05 L458.45 350.26 L458.57 349.47 L458.69 348.68 L458.81 347.88 L458.93 347.09 L459.05 346.30 L459.18 345.51 L459.30 344.72 L459.42 343.93 L459.54 343.14 L459.66 342.35 L459.79 341.55 L459.91 340.76 L460.03 339.97 L460.15 339.18 L460.27 338.39 L460.40 337.60 L460.52 336.81 L460.64 336.02 L460.76 335.22 L460.88 334.43 L461.01 333.64 L461.13 332.85 L461.25 332.06 L461.37 331.27 L461.49 330.48 L461.62 329.69 L461.74 328.89 L461.86 328.10 L461.98 327.31 L462.11 326.52 L462.23 325.73 L462.35 324.94 L462.48 324.15 L462.60 323.36 L462.72 322.56 L462.85 321.77 L462.97 320.98 L463.09 320.19 L463.21 319.40 L463.34 318.61 L463.46 317.82 L463.59 317.03 L463.71 316.24 L463.83 315.45 L463.96 314.65 L464.08 313.86 L464.21 313.07 L464.33 312.28 L464.45 311.49 L464.58 310.70 L464.70 309.91 L464.83 309.12 L464.95 308.33 L465.08 307.54 L465.20 306.75 L465.33 305.95 L465.45 305.16 L465.58 304.37 L465.70 303.58 L465.83 302.79 L465.96 302.00 L466.08 301.21 L466.21 300.42 L466.34 299.63 L466.46 298.84 L466.59 298.05 L466.72 297.26 L466.84 296.47 L466.97 295.68 L467.10 294.89 L467.23 294.10 L467.36 293.31 L467.48 292.52 L467.61 291.73 L467.74 290.94 L467.87 290.15 L468.00 289.36 L468.13 288.57 L468.26 287.78 L468.39 286.99 L468.52 286.20 L468.65 285.41 L468.78 284.62 L468.91 283.83 L469.04 283.04 L469.17 282.25 L469.31 281.46 L469.44 280.67 L469.57 279.88 L469.70 279.09 L469.84 278.30 L469.97 277.51 L470.10 276.72 L470.24 275.93 L470.37 275.14 L470.51 274.35 L470.64 273.56 L470.78 272.77 L470.91 271.98 L471.05 271.20 L471.19 270.41 L471.32 269.62 L471.46 268.83 L471.60 268.04 L471.74 267.25 L471.87 266.46 L472.01 265.67 L472.15 264.89 L472.29 264.10 L472.43 263.31 L472.57 262.52 L472.71 261.73 L472.86 260.95 L473.00 260.16 L473.14 259.37 L473.28 258.58 L473.43 257.79 L473.57 257.01 L473.72 256.22 L473.86 255.43 L474.01 254.65 L474.15 253.86 L474.30 253.07 L474.45 252.28 L474.60 251.50 L474.75 250.71 L474.90 249.92 L475.05 249.14 L475.20 248.35 L475.35 247.57 L475.50 246.78 L475.65 245.99 L475.81 245.21 L475.96 244.42 L476.12 243.64 L476.27 242.85 L476.43 242.07 L476.58 241.28 L476.74 240.50 L476.90 239.71 L477.06 238.93 L477.22 238.14 L477.38 237.36 L477.55 236.57 L477.71 235.79 L477.87 235.01 L478.04 234.22 L478.20 233.44 L478.37 232.66 L478.54 231.87 L478.71 231.09 L478.88 230.31 L479.05 229.53 L479.22 228.75 L479.40 227.96 L479.57 227.18 L479.75 226.40 L479.92 225.62 L480.10 224.84 L480.28 224.06 L480.46 223.28 L480.65 222.50 L480.83 221.72 L481.01 220.94 L481.20 220.16 L481.39 219.39 L481.58 218.61 L481.77 217.83 L481.96 217.05 L482.15 216.28 L482.35 215.50 L482.55 214.72 L482.74 213.95 L482.94 213.17 L483.15 212.40 L483.35 211.62 L483.56 210.85 L483.77 210.08 L483.97 209.30 L484.19 208.53 L484.40 207.76 L484.62 206.99 L484.83 206.22 L485.06 205.45 L485.28 204.68 L485.50 203.91 L485.73 203.15 L485.96 202.38 L486.19 201.61 L486.43 200.85 L486.67 200.08 L486.91 199.32 L487.15 198.56 L487.40 197.79 L487.65 197.03 L487.90 196.27 L488.15 195.52 L488.41 194.76 L488.68 194.00 L488.94 193.25 L489.21 192.49 L489.48 191.74 L489.76 190.99 L490.04 190.24 L490.33 189.49 L490.61 188.74 L490.91 188.00 L491.21 187.26 L491.51 186.51 L491.81 185.77 L492.13 185.04 L492.44 184.30 L492.76 183.57 L493.09 182.84 L493.42 182.11 L493.76 181.38 L494.11 180.66 L494.46 179.94 L494.81 179.22 L495.17 178.51 L495.54 177.80 L495.92 177.09 L496.30 176.39 L496.69 175.69 L497.09 174.99 L497.49 174.30 L497.91 173.62 L498.33 172.94 L498.76 172.26 L499.20 171.59 L499.64 170.93 L500.10 170.27 L500.56 169.62 L501.04 168.97 L501.52 168.33 L502.01 167.70 L502.52 167.08 L503.03 166.47 L503.56 165.86 L504.09 165.27 L504.63 164.68 L505.19 164.10 L505.76 163.54 L506.33 162.98 L506.92 162.44 L507.52 161.90 L508.12 161.38 L508.74 160.87 L509.37 160.38 L510.01 159.89 L510.66 159.42 L511.32 158.97 L511.98 158.52 L512.66 158.09 L513.34 157.68 L514.03 157.28 L514.73 156.89 L515.44 156.51 L516.16 156.15 L516.88 155.81 L517.61 155.47 L518.34 155.15 L519.08 154.84 L519.82 154.55 L520.57 154.26 L521.32 153.99 L522.08 153.73 L522.84 153.49 L523.61 153.25 L524.38 153.02 L525.15 152.81 L525.92 152.60 L526.70 152.40 L527.47 152.22 L528.26 152.04 L529.04 151.87 L529.82 151.70 L530.61 151.55 L531.39 151.40 L532.18 151.26 L532.97 151.13 L533.76 151.00 L534.55 150.88 L535.35 150.76 L536.14 150.65 L536.93 150.55 L537.73 150.45 L538.52 150.35 L539.32 150.26 L540.11 150.18 L540.91 150.10 L541.71 150.02 L542.50 149.94 L543.30 149.87 L544.10 149.81 L544.90 149.74 L545.70 149.68 L546.49 149.62 L547.29 149.57 L548.09 149.52 L548.89 149.47 L549.69 149.42 L550.49 149.37 L551.29 149.33 L552.09 149.29 L552.89 149.25 L553.69 149.21 L554.49 149.18 L555.29 149.14 L556.09 149.11 L556.89 149.08 L557.69 149.05 L558.49 149.02 L559.29 148.99 L560.09 148.97 L560.89 148.94 L561.69 148.92 L562.49 148.90 L563.29 148.88 L564.09 148.86 L564.89 148.84 L565.69 148.82 L566.49 148.80 L567.29 148.79 L568.09 148.77 L568.89 148.76 L569.69 148.74 L570.49 148.73 L571.29 148.72 L572.09 148.70 L572.89 148.69 L573.69 148.68 L574.50 148.67 L575.30 148.66 L576.10 148.65 L576.90 148.64 L577.70 148.63 L578.50 148.62 L579.30 148.61 L580.10 148.61 L580.90 148.60" stroke="#000000"/>
</g>
<g fill="none" stroke-width="3.1">
<path d="M465.3 377.6 H497.6" stroke="#00ffff"/>
<path d="M465.3 424.3 H497.6" stroke="#ff0000"/>
<path d="M465.3 471.3 H497.6" stroke="#00ff00"/>
<path d="M465.3 518.1 H497.6" stroke="#0000ff"/>
<path d="M465.3 564.9 H497.6" stroke="#00ff00" stroke-dasharray="10.7 8.0"/>
<path d="M465.3 611.6 H497.6" stroke="#ff0000" stroke-dasharray="10.7 8.0"/>
<path d="M465.3 658.4 H497.6" stroke="#000000"/>
</g>
<g style="opacity:0.999">
<text x="136.46" y="749.10" textLength="13.00" lengthAdjust="spacingAndGlyphs" style="font-size:33.48px;stroke:#000;stroke-width:1.60">1</text>
<text x="261.43" y="749.10" textLength="13.14" lengthAdjust="spacingAndGlyphs" style="font-size:33.48px;stroke:#000;stroke-width:1.59">1</text>
<text x="386.56" y="749.10" textLength="13.00" lengthAdjust="spacingAndGlyphs" style="font-size:33.48px;stroke:#000;stroke-width:1.60">1</text>
<text x="506.93" y="749.10" textLength="13.14" lengthAdjust="spacingAndGlyphs" style="font-size:33.48px;stroke:#000;stroke-width:1.59">1</text>
<text x="631.91" y="749.10" textLength="13.29" lengthAdjust="spacingAndGlyphs" style="font-size:33.48px;stroke:#000;stroke-width:1.57">1</text>
<text class="s" transform="translate(96.08 30.14) rotate(-90)" textLength="18.70" lengthAdjust="spacingAndGlyphs" style="font-size:31.83px;stroke:#000;stroke-width:0.94">3</text>
<text class="s" transform="translate(96.40 252.83) rotate(-90)" textLength="19.23" lengthAdjust="spacingAndGlyphs" style="font-size:32.29px;stroke:#000;stroke-width:0.93">2</text>
<text class="s" transform="translate(28.19 421.67) rotate(-90)" textLength="17.39" lengthAdjust="spacingAndGlyphs" style="font-size:30.74px;font-style:italic;stroke:#000;stroke-width:1.61">σ</text>
<text class="s" transform="translate(28.30 390.08) rotate(-90)" textLength="20.28" lengthAdjust="spacingAndGlyphs" style="font-size:32.14px;stroke:#000;stroke-width:1.48">Ω</text>
<text class="s" transform="translate(37.30 369.47) rotate(-90)" textLength="23.23" lengthAdjust="spacingAndGlyphs" style="font-size:22.03px;font-weight:bold;stroke:#000;stroke-width:1.13">DE</text>
<text class="s" x="298.96" y="789.33" textLength="16.89" lengthAdjust="spacingAndGlyphs" style="font-size:27.41px;font-style:italic;stroke:#000;stroke-width:0.58">σ</text>
<text x="331.07" y="789.20" textLength="18.26" lengthAdjust="spacingAndGlyphs" style="font-size:32.50px;stroke:#000;stroke-width:0.93">n</text>
<text x="350.21" y="789.20" textLength="19.26" lengthAdjust="spacingAndGlyphs" style="font-size:32.50px;stroke:#000;stroke-width:0.87">u</text>
<text x="371.16" y="789.20" textLength="7.53" lengthAdjust="spacingAndGlyphs" style="font-size:32.50px;stroke:#000;stroke-width:1.35">i</text>
<text x="379.47" y="789.20" textLength="16.82" lengthAdjust="spacingAndGlyphs" style="font-size:32.50px;stroke:#000;stroke-width:0.72">s</text>
<text x="394.65" y="789.20" textLength="20.49" lengthAdjust="spacingAndGlyphs" style="font-size:32.50px;stroke:#000;stroke-width:0.63">a</text>
<text x="414.93" y="789.20" textLength="19.13" lengthAdjust="spacingAndGlyphs" style="font-size:32.50px;stroke:#000;stroke-width:0.87">n</text>
<text x="434.31" y="789.20" textLength="16.56" lengthAdjust="spacingAndGlyphs" style="font-size:32.50px;stroke:#000;stroke-width:0.90">c</text>
<text x="449.94" y="789.20" textLength="17.28" lengthAdjust="spacingAndGlyphs" style="font-size:32.50px;stroke:#000;stroke-width:0.85">e</text>
<text x="495.99" y="789.20" textLength="22.73" lengthAdjust="spacingAndGlyphs" style="font-size:32.50px;stroke:#000;stroke-width:0.65">p</text>
<text x="517.75" y="789.20" textLength="14.21" lengthAdjust="spacingAndGlyphs" style="font-size:32.50px;stroke:#000;stroke-width:0.74">r</text>
<text x="532.34" y="789.20" textLength="7.76" lengthAdjust="spacingAndGlyphs" style="font-size:32.50px;stroke:#000;stroke-width:1.30">i</text>
<text x="539.71" y="789.20" textLength="18.57" lengthAdjust="spacingAndGlyphs" style="font-size:32.50px;stroke:#000;stroke-width:0.91">o</text>
<text x="557.56" y="789.20" textLength="15.66" lengthAdjust="spacingAndGlyphs" style="font-size:32.50px;stroke:#000;stroke-width:0.60">r</text>
<text class="s" x="504.75" y="386.42" textLength="17.09" lengthAdjust="spacingAndGlyphs" style="font-size:27.59px;font-style:italic;stroke:#000;stroke-width:1.07">σ</text>
<text class="s" x="522.87" y="377.70" textLength="11.69" lengthAdjust="spacingAndGlyphs" style="font-size:19.29px;font-weight:bold;stroke:#000;stroke-width:0.41">2</text>
<text class="s" x="522.19" y="395.30" textLength="31.61" lengthAdjust="spacingAndGlyphs" style="font-size:19.00px;font-weight:bold;stroke:#000;stroke-width:0.48">opt</text>
<text x="565.37" y="386.60" textLength="20.36" lengthAdjust="spacingAndGlyphs" style="font-size:32.77px;font-weight:bold;stroke:#000;stroke-width:1.42">M</text>
<text class="s" x="504.75" y="433.32" textLength="17.09" lengthAdjust="spacingAndGlyphs" style="font-size:27.59px;font-style:italic;stroke:#000;stroke-width:1.07">σ</text>
<text class="s" x="522.87" y="424.60" textLength="11.69" lengthAdjust="spacingAndGlyphs" style="font-size:19.29px;font-weight:bold;stroke:#000;stroke-width:0.41">2</text>
<text class="s" x="522.19" y="442.20" textLength="31.61" lengthAdjust="spacingAndGlyphs" style="font-size:19.00px;font-weight:bold;stroke:#000;stroke-width:0.48">opt</text>
<text x="565.67" y="433.50" textLength="20.15" lengthAdjust="spacingAndGlyphs" style="font-size:32.77px;font-weight:bold;stroke:#000;stroke-width:1.43">M</text>
<text x="588.37" y="433.50" textLength="7.67" lengthAdjust="spacingAndGlyphs" style="font-size:32.00px;stroke:#000;stroke-width:1.12">,</text>
<text x="596.63" y="433.50" textLength="15.77" lengthAdjust="spacingAndGlyphs" style="font-size:32.00px;stroke:#000;stroke-width:0.94">z</text>
<text class="s" x="504.75" y="480.22" textLength="17.09" lengthAdjust="spacingAndGlyphs" style="font-size:27.59px;font-style:italic;stroke:#000;stroke-width:1.07">σ</text>
<text class="s" x="522.97" y="471.50" textLength="11.69" lengthAdjust="spacingAndGlyphs" style="font-size:19.29px;font-weight:bold;stroke:#000;stroke-width:0.41">2</text>
<text x="522.38" y="489.00" textLength="19.97" lengthAdjust="spacingAndGlyphs" style="font-size:19.00px;font-weight:bold;stroke:#000;stroke-width:0.44">sz</text>
<text x="555.93" y="480.40" textLength="15.89" lengthAdjust="spacingAndGlyphs" style="font-size:32.00px;stroke:#000;stroke-width:0.93">z</text>
<text class="s" x="504.95" y="526.92" textLength="17.09" lengthAdjust="spacingAndGlyphs" style="font-size:27.59px;font-style:italic;stroke:#000;stroke-width:1.07">σ</text>
<text class="s" x="522.97" y="518.20" textLength="11.69" lengthAdjust="spacingAndGlyphs" style="font-size:19.29px;font-weight:bold;stroke:#000;stroke-width:0.41">2</text>
<text x="522.58" y="535.70" textLength="19.97" lengthAdjust="spacingAndGlyphs" style="font-size:19.00px;font-weight:bold;stroke:#000;stroke-width:0.44">sz</text>
<text x="555.83" y="527.10" textLength="15.89" lengthAdjust="spacingAndGlyphs" style="font-size:32.00px;stroke:#000;stroke-width:0.93">z</text>
<text x="584.67" y="526.74" textLength="21.93" lengthAdjust="spacingAndGlyphs" style="font-size:32.99px;stroke:#000;stroke-width:1.31">&amp;</text>
<text class="s" x="607.35" y="526.92" textLength="17.09" lengthAdjust="spacingAndGlyphs" style="font-size:27.59px;font-style:italic;stroke:#000;stroke-width:1.07">σ</text>
<text class="s" x="625.97" y="518.20" textLength="11.69" lengthAdjust="spacingAndGlyphs" style="font-size:19.29px;font-weight:bold;stroke:#000;stroke-width:0.41">2</text>
<text class="s" x="624.89" y="535.80" textLength="31.61" lengthAdjust="spacingAndGlyphs" style="font-size:19.00px;font-weight:bold;stroke:#000;stroke-width:0.48">opt</text>
<text x="667.36" y="527.10" textLength="20.58" lengthAdjust="spacingAndGlyphs" style="font-size:32.77px;font-weight:bold;stroke:#000;stroke-width:1.40">M</text>
<text x="689.37" y="527.10" textLength="7.67" lengthAdjust="spacingAndGlyphs" style="font-size:32.00px;stroke:#000;stroke-width:1.12">,</text>
<text x="697.13" y="527.10" textLength="15.89" lengthAdjust="spacingAndGlyphs" style="font-size:32.00px;stroke:#000;stroke-width:0.93">z</text>
<text x="504.97" y="575.30" textLength="8.80" lengthAdjust="spacingAndGlyphs" style="font-size:32.00px;stroke:#000;stroke-width:1.07">l</text>
<text x="514.94" y="575.30" textLength="19.02" lengthAdjust="spacingAndGlyphs" style="font-size:32.00px;stroke:#000;stroke-width:0.86">n</text>
<text x="535.37" y="575.30" textLength="20.36" lengthAdjust="spacingAndGlyphs" style="font-size:32.77px;font-weight:bold;stroke:#000;stroke-width:1.42">M</text>
<text x="556.08" y="566.40" textLength="20.08" lengthAdjust="spacingAndGlyphs" style="font-size:19.00px;font-weight:bold;stroke:#000;stroke-width:0.43">sz</text>
<text class="s" x="556.67" y="584.00" textLength="38.12" lengthAdjust="spacingAndGlyphs" style="font-size:19.00px;font-weight:bold;stroke:#000;stroke-width:0.50">bias</text>
<text x="504.97" y="622.40" textLength="8.80" lengthAdjust="spacingAndGlyphs" style="font-size:32.00px;stroke:#000;stroke-width:1.07">l</text>
<text x="514.94" y="622.40" textLength="19.02" lengthAdjust="spacingAndGlyphs" style="font-size:32.00px;stroke:#000;stroke-width:0.86">n</text>
<text x="535.37" y="622.40" textLength="20.36" lengthAdjust="spacingAndGlyphs" style="font-size:32.77px;font-weight:bold;stroke:#000;stroke-width:1.42">M</text>
<text class="s" x="556.32" y="613.80" textLength="30.37" lengthAdjust="spacingAndGlyphs" style="font-size:19.00px;font-weight:bold;stroke:#000;stroke-width:0.47">opt</text>
<text class="s" x="556.67" y="631.10" textLength="38.12" lengthAdjust="spacingAndGlyphs" style="font-size:19.00px;font-weight:bold;stroke:#000;stroke-width:0.50">bias</text>
<text x="504.72" y="669.00" textLength="20.09" lengthAdjust="spacingAndGlyphs" style="font-size:32.00px;stroke:#000;stroke-width:0.92">P</text>
<text x="525.28" y="669.00" textLength="15.32" lengthAdjust="spacingAndGlyphs" style="font-size:32.00px;stroke:#000;stroke-width:0.61">r</text>
<text x="540.82" y="669.00" textLength="7.99" lengthAdjust="spacingAndGlyphs" style="font-size:32.00px;stroke:#000;stroke-width:1.23">i</text>
<text x="549.65" y="669.00" textLength="18.10" lengthAdjust="spacingAndGlyphs" style="font-size:32.00px;stroke:#000;stroke-width:0.92">o</text>
<text x="568.03" y="669.00" textLength="16.10" lengthAdjust="spacingAndGlyphs" style="font-size:32.00px;stroke:#000;stroke-width:0.54">r</text>
<text x="583.21" y="669.00" textLength="16.45" lengthAdjust="spacingAndGlyphs" style="font-size:32.00px;stroke:#000;stroke-width:0.73">s</text>
<text x="612.43" y="669.00" textLength="19.64" lengthAdjust="spacingAndGlyphs" style="font-size:32.00px;stroke:#000;stroke-width:0.82">o</text>
<text x="631.85" y="669.00" textLength="18.80" lengthAdjust="spacingAndGlyphs" style="font-size:32.00px;stroke:#000;stroke-width:0.87">n</text>
<text x="666.14" y="669.00" textLength="18.57" lengthAdjust="spacingAndGlyphs" style="font-size:32.00px;stroke:#000;stroke-width:1.40">A</text>
<text x="685.18" y="669.00" textLength="7.30" lengthAdjust="spacingAndGlyphs" style="font-size:32.00px;stroke:#000;stroke-width:1.37">l</text>
<text x="694.88" y="669.00" textLength="7.18" lengthAdjust="spacingAndGlyphs" style="font-size:32.00px;stroke:#000;stroke-width:1.40">l</text>
<path d="M271.4 776.3 L274.6 774.9 L283.5 787.3 L298.3 759.0" fill="none" stroke="#000" stroke-width="3" stroke-linejoin="miter" stroke-miterlimit="10"/>
<ellipse cx="79.20" cy="738.05" rx="6.65" ry="9.50" fill="none" stroke="#000" stroke-width="3.1"/>
<circle cx="92.90" cy="746.85" r="2.25" fill="#000"/>
<ellipse cx="106.75" cy="738.05" rx="6.90" ry="9.50" fill="none" stroke="#000" stroke-width="3.1"/>
<ellipse cx="125.85" cy="738.05" rx="6.60" ry="9.50" fill="none" stroke="#000" stroke-width="3.1"/>
<ellipse cx="222.95" cy="738.05" rx="6.60" ry="9.50" fill="none" stroke="#000" stroke-width="3.1"/>
<circle cx="236.10" cy="746.85" r="2.25" fill="#000"/>
<ellipse cx="249.55" cy="738.05" rx="6.60" ry="9.50" fill="none" stroke="#000" stroke-width="3.1"/>
<ellipse cx="366.35" cy="738.05" rx="6.60" ry="9.50" fill="none" stroke="#000" stroke-width="3.1"/>
<circle cx="379.55" cy="746.85" r="2.25" fill="#000"/>
<ellipse cx="657.15" cy="738.05" rx="7.00" ry="9.50" fill="none" stroke="#000" stroke-width="3.1"/>
<ellipse cx="85.10" cy="65.80" rx="9.75" ry="6.05" fill="none" stroke="#000" stroke-width="3.1"/>
<circle cx="94.10" cy="52.50" r="2.30" fill="#000"/>
<ellipse cx="85.10" cy="38.65" rx="9.75" ry="6.10" fill="none" stroke="#000" stroke-width="3.1"/>
<ellipse cx="85.10" cy="289.15" rx="9.75" ry="6.10" fill="none" stroke="#000" stroke-width="3.1"/>
<circle cx="94.10" cy="275.35" r="2.30" fill="#000"/>
<ellipse cx="85.10" cy="261.50" rx="9.75" ry="6.05" fill="none" stroke="#000" stroke-width="3.1"/>
<ellipse cx="85.10" cy="511.90" rx="9.75" ry="6.05" fill="none" stroke="#000" stroke-width="3.1"/>
<circle cx="94.10" cy="498.05" r="2.30" fill="#000"/>
<ellipse cx="85.10" cy="484.25" rx="9.75" ry="6.10" fill="none" stroke="#000" stroke-width="3.1"/>
<path d="M78.40 469.20 L75.50 465.80 L94.90 465.80 M94.90 461.60 L94.90 470.20" fill="none" stroke="#000" stroke-width="3.1" stroke-linejoin="bevel"/>
<ellipse cx="85.10" cy="711.95" rx="9.75" ry="6.50" fill="none" stroke="#000" stroke-width="3.1"/>
<path d="M3.60 392.30 C12.67 404.16 24.53 404.16 33.60 392.30" fill="none" stroke="#000" stroke-width="3.0"/>
<path d="M3.60 343.60 C12.67 333.93 24.53 333.93 33.60 343.60" fill="none" stroke="#000" stroke-width="3.0"/>
<path d="M327.10 765.60 C318.21 774.18 318.21 785.42 327.10 794.00" fill="none" stroke="#000" stroke-width="3.0"/>
<path d="M471.50 765.60 C481.02 774.18 481.02 785.42 471.50 794.00" fill="none" stroke="#000" stroke-width="3.0"/>
<path d="M561.20 362.80 C551.37 371.62 551.37 383.18 561.20 392.00" fill="none" stroke="#000" stroke-width="3.0"/>
<path d="M590.00 362.80 C599.83 371.62 599.83 383.18 590.00 392.00" fill="none" stroke="#000" stroke-width="3.0"/>
<path d="M561.30 409.70 C551.47 418.52 551.47 430.08 561.30 438.90" fill="none" stroke="#000" stroke-width="3.0"/>
<path d="M615.40 409.70 C625.38 418.52 625.38 430.08 615.40 438.90" fill="none" stroke="#000" stroke-width="3.0"/>
<path d="M551.90 456.60 C543.79 465.42 543.79 476.98 551.90 485.80" fill="none" stroke="#000" stroke-width="3.0"/>
<path d="M575.70 456.60 C584.75 465.42 584.75 476.98 575.70 485.80" fill="none" stroke="#000" stroke-width="3.0"/>
<path d="M551.80 503.30 C543.84 512.12 543.84 523.68 551.80 532.50" fill="none" stroke="#000" stroke-width="3.0"/>
<path d="M575.70 503.30 C584.28 512.12 584.28 523.68 575.70 532.50" fill="none" stroke="#000" stroke-width="3.0"/>
<path d="M664.00 503.30 C655.73 512.12 655.73 523.68 664.00 532.50" fill="none" stroke="#000" stroke-width="3.0"/>
<path d="M718.10 503.30 C728.08 512.12 728.08 523.68 718.10 532.50" fill="none" stroke="#000" stroke-width="3.0"/>
</g>
</svg>
</body></html>
